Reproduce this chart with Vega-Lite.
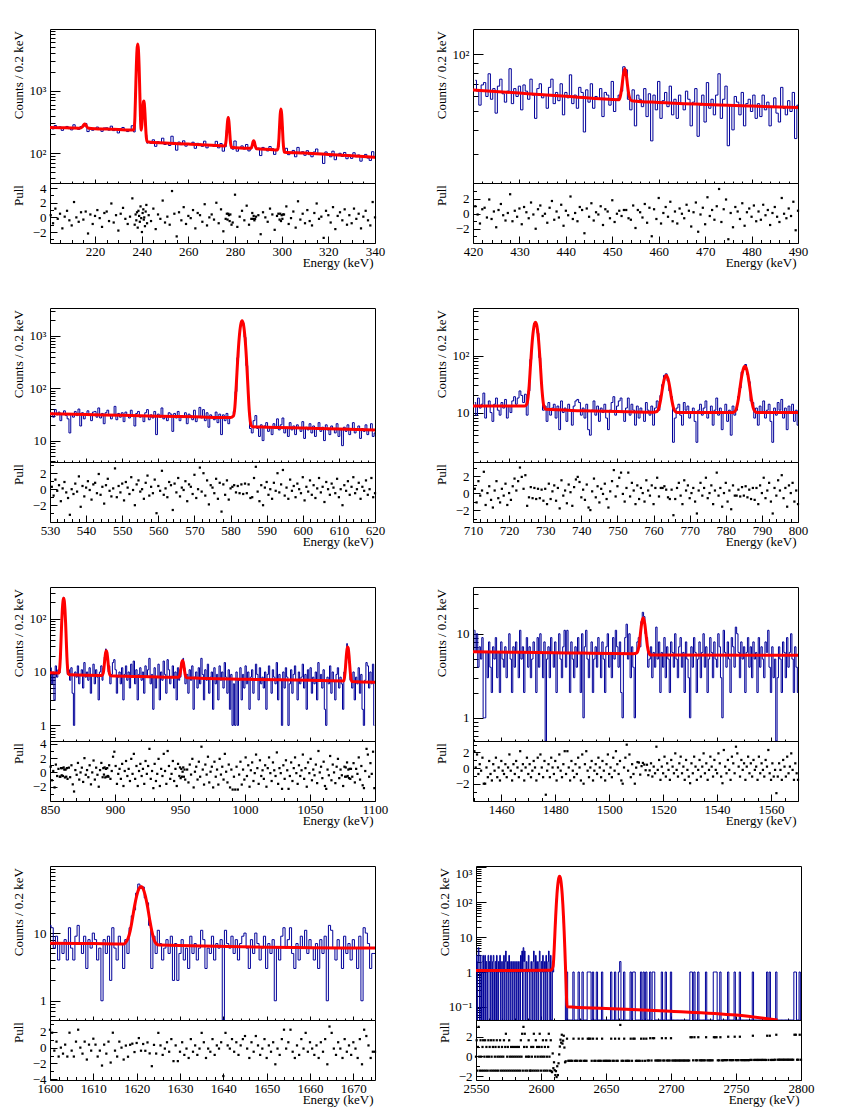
{
  "$schema": "https://vega.github.io/schema/vega-lite/v6.json",
  "background": "white",
  "padding": {"left": 11, "top": 28, "right": 5, "bottom": 5},
  "spacing": 37,
  "vconcat": [
    {"spacing": 48, "hconcat": [
      {"bounds": "flush", "spacing": 0, "vconcat": [
        {"width": 325, "height": 154,
         "layer": [
          {"data": {"name": "h1"}, "mark": {"type": "line", "interpolate": "step", "color": "#000099", "strokeWidth": 1, "clip": true},
           "encoding": {
            "x": {"field": "e", "type": "quantitative", "scale": {"domain": [200.7, 340], "nice": false, "zero": false}, "axis": {"values": [220, 240, 260, 280, 300, 320, 340], "labels": false, "tickSize": -4, "title": null}},
            "y": {"field": "c", "type": "quantitative", "scale": {"type": "log", "domain": [33, 9800], "nice": false, "clamp": true}, "axis": {"values": [100, 1000], "labelExpr": "datum.value==1000?'10³':datum.value==100?'10²':datum.value==10?'10':datum.value==1?'1':'10⁻¹'", "tickSize": -10, "labelPadding": 14, "title": "Counts / 0.2 keV", "titleAnchor": "end", "titleAlign": "right", "titleAngle": -90, "titleBaseline": "bottom", "titleX": -25, "titleY": 1.5}}}},
          {"data": {"name": "f1"}, "mark": {"type": "line", "interpolate": "monotone", "color": "#ff0000", "strokeWidth": 3, "clip": true},
           "encoding": {
            "x": {"field": "e", "type": "quantitative", "scale": {"domain": [200.7, 340], "nice": false, "zero": false}, "axis": {"orient": "bottom", "values": [205, 210, 215, 225, 230, 235, 245, 250, 255, 265, 270, 275, 285, 290, 295, 305, 310, 315, 325, 330, 335], "labels": false, "tickSize": -2, "title": null}},
            "y": {"field": "f", "type": "quantitative", "scale": {"type": "log", "domain": [33, 9800], "nice": false, "clamp": true}, "axis": {"orient": "left", "values": [40, 50, 60, 70, 80, 90, 200, 300, 400, 500, 600, 700, 800, 900, 2000, 3000, 4000, 5000, 6000, 7000, 8000, 9000], "labels": false, "tickSize": -5, "title": null}}}}
         ],
         "resolve": {"axis": {"x": "independent", "y": "independent"}}},
        {"width": 325, "height": 60,
         "layer": [
          {"data": {"name": "h1"}, "mark": {"type": "square", "filled": true, "size": 5, "opacity": 1, "color": "#000"},
           "encoding": {
            "x": {"field": "e", "type": "quantitative", "scale": {"domain": [200.7, 340], "nice": false, "zero": false}, "axis": {"values": [220, 240, 260, 280, 300, 320, 340], "format": "d", "tickSize": -7, "labelPadding": 9, "title": "Energy (keV)", "titleAnchor": "end", "titleAlign": "right", "titleBaseline": "top", "titleX": 323, "titleY": 13.5}},
            "y": {"field": "p", "type": "quantitative", "scale": {"domain": [-3.5, 4.7], "nice": false, "zero": false}, "axis": {"values": [-2, 0, 2, 4], "tickSize": -7, "labelPadding": 11, "title": "Pull", "titleAnchor": "end", "titleAlign": "right", "titleAngle": -90, "titleBaseline": "bottom", "titleX": -25, "titleY": 1.5}}}},
          {"data": {"name": "h1"}, "mark": {"type": "square", "opacity": 0},
           "encoding": {
            "x": {"field": "e", "type": "quantitative", "scale": {"domain": [200.7, 340], "nice": false, "zero": false}, "axis": {"orient": "bottom", "values": [205, 210, 215, 225, 230, 235, 245, 250, 255, 265, 270, 275, 285, 290, 295, 305, 310, 315, 325, 330, 335], "labels": false, "tickSize": -3.5, "title": null}},
            "y": {"field": "p", "type": "quantitative", "scale": {"domain": [-3.5, 4.7], "nice": false, "zero": false}, "axis": {"orient": "left", "values": [-3, -1, 1, 3], "labels": false, "tickSize": -3.5, "title": null}}}}
         ],
         "resolve": {"axis": {"x": "independent", "y": "independent"}}}
      ]},
      {"bounds": "flush", "spacing": 0, "vconcat": [
        {"width": 325, "height": 154,
         "layer": [
          {"data": {"name": "h2"}, "mark": {"type": "line", "interpolate": "step", "color": "#000099", "strokeWidth": 1, "clip": true},
           "encoding": {
            "x": {"field": "e", "type": "quantitative", "scale": {"domain": [420, 490], "nice": false, "zero": false}, "axis": {"values": [420, 430, 440, 450, 460, 470, 480, 490], "labels": false, "tickSize": -4, "title": null}},
            "y": {"field": "c", "type": "quantitative", "scale": {"type": "log", "domain": [21, 136], "nice": false, "clamp": true}, "axis": {"values": [100], "labelExpr": "datum.value==1000?'10³':datum.value==100?'10²':datum.value==10?'10':datum.value==1?'1':'10⁻¹'", "tickSize": -10, "labelPadding": 14, "title": "Counts / 0.2 keV", "titleAnchor": "end", "titleAlign": "right", "titleAngle": -90, "titleBaseline": "bottom", "titleX": -25, "titleY": 1.5}}}},
          {"data": {"name": "f2"}, "mark": {"type": "line", "interpolate": "monotone", "color": "#ff0000", "strokeWidth": 3, "clip": true},
           "encoding": {
            "x": {"field": "e", "type": "quantitative", "scale": {"domain": [420, 490], "nice": false, "zero": false}, "axis": {"orient": "bottom", "values": [422, 424, 426, 428, 432, 434, 436, 438, 442, 444, 446, 448, 452, 454, 456, 458, 462, 464, 466, 468, 472, 474, 476, 478, 482, 484, 486, 488], "labels": false, "tickSize": -2, "title": null}},
            "y": {"field": "f", "type": "quantitative", "scale": {"type": "log", "domain": [21, 136], "nice": false, "clamp": true}, "axis": {"orient": "left", "values": [30, 40, 50, 60, 70, 80, 90], "labels": false, "tickSize": -5, "title": null}}}}
         ],
         "resolve": {"axis": {"x": "independent", "y": "independent"}}},
        {"width": 325, "height": 60,
         "layer": [
          {"data": {"name": "h2"}, "mark": {"type": "square", "filled": true, "size": 5, "opacity": 1, "color": "#000"},
           "encoding": {
            "x": {"field": "e", "type": "quantitative", "scale": {"domain": [420, 490], "nice": false, "zero": false}, "axis": {"values": [420, 430, 440, 450, 460, 470, 480, 490], "format": "d", "tickSize": -7, "labelPadding": 9, "title": "Energy (keV)", "titleAnchor": "end", "titleAlign": "right", "titleBaseline": "top", "titleX": 323, "titleY": 13.5}},
            "y": {"field": "p", "type": "quantitative", "scale": {"domain": [-3.9, 4.1], "nice": false, "zero": false}, "axis": {"values": [-2, 0, 2], "tickSize": -7, "labelPadding": 11, "title": "Pull", "titleAnchor": "end", "titleAlign": "right", "titleAngle": -90, "titleBaseline": "bottom", "titleX": -25, "titleY": 1.5}}}},
          {"data": {"name": "h2"}, "mark": {"type": "square", "opacity": 0},
           "encoding": {
            "x": {"field": "e", "type": "quantitative", "scale": {"domain": [420, 490], "nice": false, "zero": false}, "axis": {"orient": "bottom", "values": [422, 424, 426, 428, 432, 434, 436, 438, 442, 444, 446, 448, 452, 454, 456, 458, 462, 464, 466, 468, 472, 474, 476, 478, 482, 484, 486, 488], "labels": false, "tickSize": -3.5, "title": null}},
            "y": {"field": "p", "type": "quantitative", "scale": {"domain": [-3.9, 4.1], "nice": false, "zero": false}, "axis": {"orient": "left", "values": [-3, -1, 1, 3], "labels": false, "tickSize": -3.5, "title": null}}}}
         ],
         "resolve": {"axis": {"x": "independent", "y": "independent"}}}
      ]}
    ]},
    {"spacing": 48, "hconcat": [
      {"bounds": "flush", "spacing": 0, "vconcat": [
        {"width": 325, "height": 154,
         "layer": [
          {"data": {"name": "h3"}, "mark": {"type": "line", "interpolate": "step", "color": "#000099", "strokeWidth": 1, "clip": true},
           "encoding": {
            "x": {"field": "e", "type": "quantitative", "scale": {"domain": [530, 620], "nice": false, "zero": false}, "axis": {"values": [530, 540, 550, 560, 570, 580, 590, 600, 610, 620], "labels": false, "tickSize": -4, "title": null}},
            "y": {"field": "c", "type": "quantitative", "scale": {"type": "log", "domain": [3.9, 3400], "nice": false, "clamp": true}, "axis": {"values": [10, 100, 1000], "labelExpr": "datum.value==1000?'10³':datum.value==100?'10²':datum.value==10?'10':datum.value==1?'1':'10⁻¹'", "tickSize": -10, "labelPadding": 14, "title": "Counts / 0.2 keV", "titleAnchor": "end", "titleAlign": "right", "titleAngle": -90, "titleBaseline": "bottom", "titleX": -25, "titleY": 1.5}}}},
          {"data": {"name": "f3"}, "mark": {"type": "line", "interpolate": "monotone", "color": "#ff0000", "strokeWidth": 3, "clip": true},
           "encoding": {
            "x": {"field": "e", "type": "quantitative", "scale": {"domain": [530, 620], "nice": false, "zero": false}, "axis": {"orient": "bottom", "values": [532, 534, 536, 538, 542, 544, 546, 548, 552, 554, 556, 558, 562, 564, 566, 568, 572, 574, 576, 578, 582, 584, 586, 588, 592, 594, 596, 598, 602, 604, 606, 608, 612, 614, 616, 618], "labels": false, "tickSize": -2, "title": null}},
            "y": {"field": "f", "type": "quantitative", "scale": {"type": "log", "domain": [3.9, 3400], "nice": false, "clamp": true}, "axis": {"orient": "left", "values": [4, 5, 6, 7, 8, 9, 20, 30, 40, 50, 60, 70, 80, 90, 200, 300, 400, 500, 600, 700, 800, 900, 2000, 3000], "labels": false, "tickSize": -5, "title": null}}}}
         ],
         "resolve": {"axis": {"x": "independent", "y": "independent"}}},
        {"width": 325, "height": 60,
         "layer": [
          {"data": {"name": "h3"}, "mark": {"type": "square", "filled": true, "size": 5, "opacity": 1, "color": "#000"},
           "encoding": {
            "x": {"field": "e", "type": "quantitative", "scale": {"domain": [530, 620], "nice": false, "zero": false}, "axis": {"values": [530, 540, 550, 560, 570, 580, 590, 600, 610, 620], "format": "d", "tickSize": -7, "labelPadding": 9, "title": "Energy (keV)", "titleAnchor": "end", "titleAlign": "right", "titleBaseline": "top", "titleX": 323, "titleY": 13.5}},
            "y": {"field": "p", "type": "quantitative", "scale": {"domain": [-4.1, 3.4], "nice": false, "zero": false}, "axis": {"values": [-2, 0, 2], "tickSize": -7, "labelPadding": 11, "title": "Pull", "titleAnchor": "end", "titleAlign": "right", "titleAngle": -90, "titleBaseline": "bottom", "titleX": -25, "titleY": 1.5}}}},
          {"data": {"name": "h3"}, "mark": {"type": "square", "opacity": 0},
           "encoding": {
            "x": {"field": "e", "type": "quantitative", "scale": {"domain": [530, 620], "nice": false, "zero": false}, "axis": {"orient": "bottom", "values": [532, 534, 536, 538, 542, 544, 546, 548, 552, 554, 556, 558, 562, 564, 566, 568, 572, 574, 576, 578, 582, 584, 586, 588, 592, 594, 596, 598, 602, 604, 606, 608, 612, 614, 616, 618], "labels": false, "tickSize": -3.5, "title": null}},
            "y": {"field": "p", "type": "quantitative", "scale": {"domain": [-4.1, 3.4], "nice": false, "zero": false}, "axis": {"orient": "left", "values": [-3, -1, 1, 3], "labels": false, "tickSize": -3.5, "title": null}}}}
         ],
         "resolve": {"axis": {"x": "independent", "y": "independent"}}}
      ]},
      {"bounds": "flush", "spacing": 0, "vconcat": [
        {"width": 325, "height": 154,
         "layer": [
          {"data": {"name": "h4"}, "mark": {"type": "line", "interpolate": "step", "color": "#000099", "strokeWidth": 1, "clip": true},
           "encoding": {
            "x": {"field": "e", "type": "quantitative", "scale": {"domain": [710, 800], "nice": false, "zero": false}, "axis": {"values": [710, 720, 730, 740, 750, 760, 770, 780, 790, 800], "labels": false, "tickSize": -4, "title": null}},
            "y": {"field": "c", "type": "quantitative", "scale": {"type": "log", "domain": [1.35, 690], "nice": false, "clamp": true}, "axis": {"values": [10, 100], "labelExpr": "datum.value==1000?'10³':datum.value==100?'10²':datum.value==10?'10':datum.value==1?'1':'10⁻¹'", "tickSize": -10, "labelPadding": 14, "title": "Counts / 0.2 keV", "titleAnchor": "end", "titleAlign": "right", "titleAngle": -90, "titleBaseline": "bottom", "titleX": -25, "titleY": 1.5}}}},
          {"data": {"name": "f4"}, "mark": {"type": "line", "interpolate": "monotone", "color": "#ff0000", "strokeWidth": 3, "clip": true},
           "encoding": {
            "x": {"field": "e", "type": "quantitative", "scale": {"domain": [710, 800], "nice": false, "zero": false}, "axis": {"orient": "bottom", "values": [712, 714, 716, 718, 722, 724, 726, 728, 732, 734, 736, 738, 742, 744, 746, 748, 752, 754, 756, 758, 762, 764, 766, 768, 772, 774, 776, 778, 782, 784, 786, 788, 792, 794, 796, 798], "labels": false, "tickSize": -2, "title": null}},
            "y": {"field": "f", "type": "quantitative", "scale": {"type": "log", "domain": [1.35, 690], "nice": false, "clamp": true}, "axis": {"orient": "left", "values": [2, 3, 4, 5, 6, 7, 8, 9, 20, 30, 40, 50, 60, 70, 80, 90, 200, 300, 400, 500, 600], "labels": false, "tickSize": -5, "title": null}}}}
         ],
         "resolve": {"axis": {"x": "independent", "y": "independent"}}},
        {"width": 325, "height": 60,
         "layer": [
          {"data": {"name": "h4"}, "mark": {"type": "square", "filled": true, "size": 5, "opacity": 1, "color": "#000"},
           "encoding": {
            "x": {"field": "e", "type": "quantitative", "scale": {"domain": [710, 800], "nice": false, "zero": false}, "axis": {"values": [710, 720, 730, 740, 750, 760, 770, 780, 790, 800], "format": "d", "tickSize": -7, "labelPadding": 9, "title": "Energy (keV)", "titleAnchor": "end", "titleAlign": "right", "titleBaseline": "top", "titleX": 323, "titleY": 13.5}},
            "y": {"field": "p", "type": "quantitative", "scale": {"domain": [-3.4, 3.65], "nice": false, "zero": false}, "axis": {"values": [-2, 0, 2], "tickSize": -7, "labelPadding": 11, "title": "Pull", "titleAnchor": "end", "titleAlign": "right", "titleAngle": -90, "titleBaseline": "bottom", "titleX": -25, "titleY": 1.5}}}},
          {"data": {"name": "h4"}, "mark": {"type": "square", "opacity": 0},
           "encoding": {
            "x": {"field": "e", "type": "quantitative", "scale": {"domain": [710, 800], "nice": false, "zero": false}, "axis": {"orient": "bottom", "values": [712, 714, 716, 718, 722, 724, 726, 728, 732, 734, 736, 738, 742, 744, 746, 748, 752, 754, 756, 758, 762, 764, 766, 768, 772, 774, 776, 778, 782, 784, 786, 788, 792, 794, 796, 798], "labels": false, "tickSize": -3.5, "title": null}},
            "y": {"field": "p", "type": "quantitative", "scale": {"domain": [-3.4, 3.65], "nice": false, "zero": false}, "axis": {"orient": "left", "values": [-3, -1, 1, 3], "labels": false, "tickSize": -3.5, "title": null}}}}
         ],
         "resolve": {"axis": {"x": "independent", "y": "independent"}}}
      ]}
    ]},
    {"spacing": 45, "hconcat": [
      {"bounds": "flush", "spacing": 0, "vconcat": [
        {"width": 325, "height": 154,
         "layer": [
          {"data": {"name": "h5"}, "mark": {"type": "line", "interpolate": "step", "color": "#000099", "strokeWidth": 1, "clip": true},
           "encoding": {
            "x": {"field": "e", "type": "quantitative", "scale": {"domain": [850, 1100], "nice": false, "zero": false}, "axis": {"values": [850, 900, 950, 1000, 1050, 1100], "labels": false, "tickSize": -4, "title": null}},
            "y": {"field": "c", "type": "quantitative", "scale": {"type": "log", "domain": [0.51, 390], "nice": false, "clamp": true}, "axis": {"values": [1, 10, 100], "labelExpr": "datum.value==1000?'10³':datum.value==100?'10²':datum.value==10?'10':datum.value==1?'1':'10⁻¹'", "tickSize": -10, "labelPadding": 14, "title": "Counts / 0.2 keV", "titleAnchor": "end", "titleAlign": "right", "titleAngle": -90, "titleBaseline": "bottom", "titleX": -25, "titleY": 1.5}}}},
          {"data": {"name": "f5"}, "mark": {"type": "line", "interpolate": "monotone", "color": "#ff0000", "strokeWidth": 3, "clip": true},
           "encoding": {
            "x": {"field": "e", "type": "quantitative", "scale": {"domain": [850, 1100], "nice": false, "zero": false}, "axis": {"orient": "bottom", "values": [860, 870, 880, 890, 910, 920, 930, 940, 960, 970, 980, 990, 1010, 1020, 1030, 1040, 1060, 1070, 1080, 1090], "labels": false, "tickSize": -2, "title": null}},
            "y": {"field": "f", "type": "quantitative", "scale": {"type": "log", "domain": [0.51, 390], "nice": false, "clamp": true}, "axis": {"orient": "left", "values": [0.6, 0.7, 0.8, 0.9, 2, 3, 4, 5, 6, 7, 8, 9, 20, 30, 40, 50, 60, 70, 80, 90, 200, 300], "labels": false, "tickSize": -5, "title": null}}}}
         ],
         "resolve": {"axis": {"x": "independent", "y": "independent"}}},
        {"width": 325, "height": 60,
         "layer": [
          {"data": {"name": "h5"}, "mark": {"type": "square", "filled": true, "size": 5, "opacity": 1, "color": "#000"},
           "encoding": {
            "x": {"field": "e", "type": "quantitative", "scale": {"domain": [850, 1100], "nice": false, "zero": false}, "axis": {"values": [850, 900, 950, 1000, 1050, 1100], "format": "d", "tickSize": -7, "labelPadding": 9, "title": "Energy (keV)", "titleAnchor": "end", "titleAlign": "right", "titleBaseline": "top", "titleX": 323, "titleY": 13.5}},
            "y": {"field": "p", "type": "quantitative", "scale": {"domain": [-4.0, 4.4], "nice": false, "zero": false}, "axis": {"values": [-2, 0, 2, 4], "tickSize": -7, "labelPadding": 11, "title": "Pull", "titleAnchor": "end", "titleAlign": "right", "titleAngle": -90, "titleBaseline": "bottom", "titleX": -25, "titleY": 1.5}}}},
          {"data": {"name": "h5"}, "mark": {"type": "square", "opacity": 0},
           "encoding": {
            "x": {"field": "e", "type": "quantitative", "scale": {"domain": [850, 1100], "nice": false, "zero": false}, "axis": {"orient": "bottom", "values": [860, 870, 880, 890, 910, 920, 930, 940, 960, 970, 980, 990, 1010, 1020, 1030, 1040, 1060, 1070, 1080, 1090], "labels": false, "tickSize": -3.5, "title": null}},
            "y": {"field": "p", "type": "quantitative", "scale": {"domain": [-4.0, 4.4], "nice": false, "zero": false}, "axis": {"orient": "left", "values": [-3, -1, 1, 3], "labels": false, "tickSize": -3.5, "title": null}}}}
         ],
         "resolve": {"axis": {"x": "independent", "y": "independent"}}}
      ]},
      {"bounds": "flush", "spacing": 0, "vconcat": [
        {"width": 325, "height": 154,
         "layer": [
          {"data": {"name": "h6"}, "mark": {"type": "line", "interpolate": "step", "color": "#000099", "strokeWidth": 1, "clip": true},
           "encoding": {
            "x": {"field": "e", "type": "quantitative", "scale": {"domain": [1449.5, 1570], "nice": false, "zero": false}, "axis": {"values": [1460, 1480, 1500, 1520, 1540, 1560], "labels": false, "tickSize": -4, "title": null}},
            "y": {"field": "c", "type": "quantitative", "scale": {"type": "log", "domain": [0.53, 36], "nice": false, "clamp": true}, "axis": {"values": [1, 10], "labelExpr": "datum.value==1000?'10³':datum.value==100?'10²':datum.value==10?'10':datum.value==1?'1':'10⁻¹'", "tickSize": -10, "labelPadding": 14, "title": "Counts / 0.2 keV", "titleAnchor": "end", "titleAlign": "right", "titleAngle": -90, "titleBaseline": "bottom", "titleX": -25, "titleY": 1.5}}}},
          {"data": {"name": "f6"}, "mark": {"type": "line", "interpolate": "monotone", "color": "#ff0000", "strokeWidth": 3, "clip": true},
           "encoding": {
            "x": {"field": "e", "type": "quantitative", "scale": {"domain": [1449.5, 1570], "nice": false, "zero": false}, "axis": {"orient": "bottom", "values": [1450, 1455, 1465, 1470, 1475, 1485, 1490, 1495, 1505, 1510, 1515, 1525, 1530, 1535, 1545, 1550, 1555, 1565, 1570], "labels": false, "tickSize": -2, "title": null}},
            "y": {"field": "f", "type": "quantitative", "scale": {"type": "log", "domain": [0.53, 36], "nice": false, "clamp": true}, "axis": {"orient": "left", "values": [0.6, 0.7, 0.8, 0.9, 2, 3, 4, 5, 6, 7, 8, 9, 20, 30], "labels": false, "tickSize": -5, "title": null}}}}
         ],
         "resolve": {"axis": {"x": "independent", "y": "independent"}}},
        {"width": 325, "height": 60,
         "layer": [
          {"data": {"name": "h6"}, "mark": {"type": "square", "filled": true, "size": 5, "opacity": 1, "color": "#000"},
           "encoding": {
            "x": {"field": "e", "type": "quantitative", "scale": {"domain": [1449.5, 1570], "nice": false, "zero": false}, "axis": {"values": [1460, 1480, 1500, 1520, 1540, 1560], "format": "d", "tickSize": -7, "labelPadding": 9, "title": "Energy (keV)", "titleAnchor": "end", "titleAlign": "right", "titleBaseline": "top", "titleX": 323, "titleY": 13.5}},
            "y": {"field": "p", "type": "quantitative", "scale": {"domain": [-4.2, 3.46], "nice": false, "zero": false}, "axis": {"values": [-2, 0, 2], "tickSize": -7, "labelPadding": 11, "title": "Pull", "titleAnchor": "end", "titleAlign": "right", "titleAngle": -90, "titleBaseline": "bottom", "titleX": -25, "titleY": 1.5}}}},
          {"data": {"name": "h6"}, "mark": {"type": "square", "opacity": 0},
           "encoding": {
            "x": {"field": "e", "type": "quantitative", "scale": {"domain": [1449.5, 1570], "nice": false, "zero": false}, "axis": {"orient": "bottom", "values": [1450, 1455, 1465, 1470, 1475, 1485, 1490, 1495, 1505, 1510, 1515, 1525, 1530, 1535, 1545, 1550, 1555, 1565, 1570], "labels": false, "tickSize": -3.5, "title": null}},
            "y": {"field": "p", "type": "quantitative", "scale": {"domain": [-4.2, 3.46], "nice": false, "zero": false}, "axis": {"orient": "left", "values": [-3, -1, 1, 3], "labels": false, "tickSize": -3.5, "title": null}}}}
         ],
         "resolve": {"axis": {"x": "independent", "y": "independent"}}}
      ]}
    ]},
    {"spacing": 58, "hconcat": [
      {"bounds": "flush", "spacing": 0, "vconcat": [
        {"width": 325, "height": 154,
         "layer": [
          {"data": {"name": "h7"}, "mark": {"type": "line", "interpolate": "step", "color": "#000099", "strokeWidth": 1, "clip": true},
           "encoding": {
            "x": {"field": "e", "type": "quantitative", "scale": {"domain": [1600, 1675], "nice": false, "zero": false}, "axis": {"values": [1600, 1610, 1620, 1630, 1640, 1650, 1660, 1670], "labels": false, "tickSize": -4, "title": null}},
            "y": {"field": "c", "type": "quantitative", "scale": {"type": "log", "domain": [0.52, 98], "nice": false, "clamp": true}, "axis": {"values": [1, 10], "labelExpr": "datum.value==1000?'10³':datum.value==100?'10²':datum.value==10?'10':datum.value==1?'1':'10⁻¹'", "tickSize": -10, "labelPadding": 14, "title": "Counts / 0.2 keV", "titleAnchor": "end", "titleAlign": "right", "titleAngle": -90, "titleBaseline": "bottom", "titleX": -25, "titleY": 1.5}}}},
          {"data": {"name": "f7"}, "mark": {"type": "line", "interpolate": "monotone", "color": "#ff0000", "strokeWidth": 3, "clip": true},
           "encoding": {
            "x": {"field": "e", "type": "quantitative", "scale": {"domain": [1600, 1675], "nice": false, "zero": false}, "axis": {"orient": "bottom", "values": [1602, 1604, 1606, 1608, 1612, 1614, 1616, 1618, 1622, 1624, 1626, 1628, 1632, 1634, 1636, 1638, 1642, 1644, 1646, 1648, 1652, 1654, 1656, 1658, 1662, 1664, 1666, 1668, 1672, 1674], "labels": false, "tickSize": -2, "title": null}},
            "y": {"field": "f", "type": "quantitative", "scale": {"type": "log", "domain": [0.52, 98], "nice": false, "clamp": true}, "axis": {"orient": "left", "values": [0.6, 0.7, 0.8, 0.9, 2, 3, 4, 5, 6, 7, 8, 9, 20, 30, 40, 50, 60, 70, 80, 90], "labels": false, "tickSize": -5, "title": null}}}}
         ],
         "resolve": {"axis": {"x": "independent", "y": "independent"}}},
        {"width": 325, "height": 60,
         "layer": [
          {"data": {"name": "h7"}, "mark": {"type": "square", "filled": true, "size": 5, "opacity": 1, "color": "#000"},
           "encoding": {
            "x": {"field": "e", "type": "quantitative", "scale": {"domain": [1600, 1675], "nice": false, "zero": false}, "axis": {"values": [1600, 1610, 1620, 1630, 1640, 1650, 1660, 1670], "format": "d", "tickSize": -7, "labelPadding": 9, "title": "Energy (keV)", "titleAnchor": "end", "titleAlign": "right", "titleBaseline": "top", "titleX": 323, "titleY": 13.5}},
            "y": {"field": "p", "type": "quantitative", "scale": {"domain": [-4.1, 3.5], "nice": false, "zero": false}, "axis": {"values": [-4, -2, 0, 2], "tickSize": -7, "labelPadding": 11, "title": "Pull", "titleAnchor": "end", "titleAlign": "right", "titleAngle": -90, "titleBaseline": "bottom", "titleX": -25, "titleY": 1.5}}}},
          {"data": {"name": "h7"}, "mark": {"type": "square", "opacity": 0},
           "encoding": {
            "x": {"field": "e", "type": "quantitative", "scale": {"domain": [1600, 1675], "nice": false, "zero": false}, "axis": {"orient": "bottom", "values": [1602, 1604, 1606, 1608, 1612, 1614, 1616, 1618, 1622, 1624, 1626, 1628, 1632, 1634, 1636, 1638, 1642, 1644, 1646, 1648, 1652, 1654, 1656, 1658, 1662, 1664, 1666, 1668, 1672, 1674], "labels": false, "tickSize": -3.5, "title": null}},
            "y": {"field": "p", "type": "quantitative", "scale": {"domain": [-4.1, 3.5], "nice": false, "zero": false}, "axis": {"orient": "left", "values": [-3, -1, 1, 3], "labels": false, "tickSize": -3.5, "title": null}}}}
         ],
         "resolve": {"axis": {"x": "independent", "y": "independent"}}}
      ]},
      {"bounds": "flush", "spacing": 0, "vconcat": [
        {"width": 325, "height": 154,
         "layer": [
          {"data": {"name": "h8"}, "mark": {"type": "line", "interpolate": "step", "color": "#000099", "strokeWidth": 1, "clip": true},
           "encoding": {
            "x": {"field": "e", "type": "quantitative", "scale": {"domain": [2550, 2800], "nice": false, "zero": false}, "axis": {"values": [2550, 2600, 2650, 2700, 2750, 2800], "labels": false, "tickSize": -4, "title": null}},
            "y": {"field": "c", "type": "quantitative", "scale": {"type": "log", "domain": [0.042, 1100], "nice": false, "clamp": true}, "axis": {"values": [0.1, 1, 10, 100, 1000], "labelExpr": "datum.value==1000?'10³':datum.value==100?'10²':datum.value==10?'10':datum.value==1?'1':'10⁻¹'", "labelBaseline": {"condition": {"test": "datum.value == 1000", "value": "top"}, "value": "middle"}, "tickSize": -10, "labelPadding": 14, "title": "Counts / 0.2 keV", "titleAnchor": "end", "titleAlign": "right", "titleAngle": -90, "titleBaseline": "bottom", "titleX": -25, "titleY": 1.5}}}},
          {"data": {"name": "f8"}, "mark": {"type": "line", "interpolate": "monotone", "color": "#ff0000", "strokeWidth": 3, "clip": true},
           "encoding": {
            "x": {"field": "e", "type": "quantitative", "scale": {"domain": [2550, 2800], "nice": false, "zero": false}, "axis": {"orient": "bottom", "values": [2560, 2570, 2580, 2590, 2610, 2620, 2630, 2640, 2660, 2670, 2680, 2690, 2710, 2720, 2730, 2740, 2760, 2770, 2780, 2790], "labels": false, "tickSize": -2, "title": null}},
            "y": {"field": "f", "type": "quantitative", "scale": {"type": "log", "domain": [0.042, 1100], "nice": false, "clamp": true}, "axis": {"orient": "left", "values": [0.05, 0.06, 0.07, 0.08, 0.09, 0.2, 0.3, 0.4, 0.5, 0.6, 0.7, 0.8, 0.9, 2, 3, 4, 5, 6, 7, 8, 9, 20, 30, 40, 50, 60, 70, 80, 90, 200, 300, 400, 500, 600, 700, 800, 900], "labels": false, "tickSize": -5, "title": null}}}}
         ],
         "resolve": {"axis": {"x": "independent", "y": "independent"}}},
        {"width": 325, "height": 60,
         "layer": [
          {"data": {"name": "h8"}, "mark": {"type": "square", "filled": true, "size": 5, "opacity": 1, "color": "#000"},
           "encoding": {
            "x": {"field": "e", "type": "quantitative", "scale": {"domain": [2550, 2800], "nice": false, "zero": false}, "axis": {"values": [2550, 2600, 2650, 2700, 2750, 2800], "format": "d", "tickSize": -7, "labelPadding": 9, "title": "Energy (keV)", "titleAnchor": "end", "titleAlign": "right", "titleBaseline": "top", "titleX": 323, "titleY": 13.5}},
            "y": {"field": "p", "type": "quantitative", "scale": {"domain": [-2.4, 3.7], "nice": false, "zero": false}, "axis": {"values": [-2, 0, 2], "tickSize": -7, "labelPadding": 11, "title": "Pull", "titleAnchor": "end", "titleAlign": "right", "titleAngle": -90, "titleBaseline": "bottom", "titleX": -25, "titleY": 1.5}}}},
          {"data": {"name": "h8"}, "mark": {"type": "square", "opacity": 0},
           "encoding": {
            "x": {"field": "e", "type": "quantitative", "scale": {"domain": [2550, 2800], "nice": false, "zero": false}, "axis": {"orient": "bottom", "values": [2560, 2570, 2580, 2590, 2610, 2620, 2630, 2640, 2660, 2670, 2680, 2690, 2710, 2720, 2730, 2740, 2760, 2770, 2780, 2790], "labels": false, "tickSize": -3.5, "title": null}},
            "y": {"field": "p", "type": "quantitative", "scale": {"domain": [-2.4, 3.7], "nice": false, "zero": false}, "axis": {"orient": "left", "values": [-1, 1, 3], "labels": false, "tickSize": -3.5, "title": null}}}}
         ],
         "resolve": {"axis": {"x": "independent", "y": "independent"}}}
      ]}
    ]}
  ],
  "datasets": {
    "h1": [
      {"e":201,"c":263,"p":0.3},{"e":202,"c":244,"p":-0.8},{"e":203,"c":276,"p":1.2},{"e":204,"c":253,"p":-0.2},{"e":205,"c":263,"p":0.5},{"e":206,"c":231,"p":-1.5},{"e":207,"c":256,"p":0.1},{"e":208,"c":267,"p":0.9},{"e":209,"c":246,"p":-0.4},{"e":210,"c":235,"p":-1.1},
      {"e":211,"c":284,"p":2.1},{"e":212,"c":250,"p":0},{"e":213,"c":240,"p":-0.6},{"e":214,"c":265,"p":0.7},{"e":215,"c":270,"p":-0.3},{"e":216,"c":298,"p":0.8},{"e":217,"c":221,"p":-2.2},{"e":218,"c":254,"p":0.4},{"e":219,"c":232,"p":-0.9},{"e":220,"c":248,"p":0.2},
      {"e":221,"c":261,"p":1.0},{"e":222,"c":242,"p":-0.1},{"e":223,"c":223,"p":-1.3},{"e":224,"c":252,"p":0.6},{"e":225,"c":254,"p":0.8},{"e":226,"c":233,"p":-0.5},{"e":227,"c":270,"p":1.9},{"e":228,"c":229,"p":-0.7},{"e":229,"c":244,"p":0.3},{"e":230,"c":210,"p":-1.8},
      {"e":231,"c":245,"p":0.5},{"e":232,"c":257,"p":1.3},{"e":233,"c":233,"p":-0.2},{"e":234,"c":221,"p":-0.9},{"e":235,"c":237,"p":0.1},{"e":236,"c":274,"p":2.6},{"e":237,"c":218,"p":-1.0},
      {"e":237.4,"c":940,"p":0.4},{"e":237.7,"c":2380,"p":-0.4},{"e":238,"c":4580,"p":0.7},{"e":238.3,"c":5480,"p":-1.4},{"e":238.6,"c":4600,"p":0.9},{"e":238.9,"c":2440,"p":0.2},{"e":239.2,"c":900,"p":-0.6},{"e":239.5,"c":360,"p":1.5},{"e":239.8,"c":230,"p":-0.1},{"e":240.1,"c":255,"p":-2.0},
      {"e":240.4,"c":460,"p":0.6},{"e":240.7,"c":665,"p":1.1},{"e":240.9,"c":680,"p":-0.3},{"e":241.1,"c":633,"p":0},{"e":241.4,"c":417,"p":-1.2},{"e":241.7,"c":270,"p":0.8},{"e":242,"c":196,"p":1.7},{"e":242.3,"c":144,"p":-0.8},
      {"e":243,"c":153,"p":0.3},{"e":244,"c":143,"p":-0.5},{"e":245,"c":163,"p":1.2},{"e":246,"c":128,"p":-1.6},{"e":247,"c":152,"p":0.4},{"e":248,"c":144,"p":-0.2},{"e":249,"c":173,"p":2.3},{"e":250,"c":137,"p":-0.7},{"e":251,"c":145,"p":0.1},{"e":252,"c":132,"p":-1.0},
      {"e":253,"c":186,"p":3.6},{"e":254,"c":148,"p":0.5},{"e":255,"c":111,"p":-2.6},{"e":256,"c":150,"p":0.7},{"e":257,"c":136,"p":-0.4},{"e":258,"c":157,"p":1.4},{"e":259,"c":129,"p":-0.9},{"e":260,"c":141,"p":0.2},{"e":261,"c":137,"p":-0.1},{"e":262,"c":149,"p":1.0},
      {"e":263,"c":119,"p":-1.5},{"e":264,"c":143,"p":0.6},{"e":265,"c":139,"p":0.3},{"e":266,"c":128,"p":-0.6},{"e":267,"c":155,"p":1.8},{"e":268,"c":121,"p":-1.1},{"e":269,"c":133,"p":0},{"e":270,"c":137,"p":0.4},{"e":271,"c":128,"p":-0.3},{"e":272,"c":154,"p":2.0},
      {"e":273,"c":121,"p":-0.8},{"e":274,"c":142,"p":1.1},{"e":275,"c":107,"p":-1.9},{"e":276,"c":126,"p":-0.2},{"e":276.5,"c":232,"p":0.5},{"e":276.8,"c":318,"p":-0.3},{"e":277.1,"c":380,"p":0.5},{"e":277.4,"c":326,"p":0.3},{"e":277.7,"c":218,"p":-0.5},{"e":278,"c":160,"p":0.4},
      {"e":278.5,"c":118,"p":-1.0},{"e":279,"c":115,"p":-0.7},{"e":280,"c":156,"p":3.1},{"e":281,"c":107,"p":-1.3},{"e":282,"c":122,"p":0.1},{"e":283,"c":130,"p":0.9},{"e":284,"c":116,"p":-0.4},{"e":285,"c":137,"p":1.6},{"e":286,"c":108,"p":-1.0},{"e":287,"c":117,"p":-0.2},
      {"e":287.4,"c":140,"p":0.6},{"e":287.7,"c":147,"p":-0.2},{"e":288,"c":160,"p":0.2},{"e":288.3,"c":146,"p":-0.4},{"e":288.6,"c":131,"p":-0.2},{"e":289,"c":118,"p":0.1},{"e":290,"c":120,"p":0.3},{"e":291,"c":91,"p":-2.3},{"e":292,"c":123,"p":0.7},{"e":293,"c":115,"p":0},
      {"e":294,"c":108,"p":-0.6},{"e":295,"c":127,"p":1.2},{"e":296,"c":118,"p":0.4},{"e":297,"c":95,"p":-1.7},{"e":298,"c":115,"p":0.2},{"e":298.6,"c":125,"p":0.5},{"e":299.1,"c":268,"p":-0.3},{"e":299.4,"c":440,"p":0.5},{"e":299.7,"c":496,"p":-0.5},{"e":300,"c":430,"p":0.3},
      {"e":300.3,"c":262,"p":-0.2},{"e":300.6,"c":162,"p":0.4},{"e":301,"c":108,"p":0.4},{"e":302,"c":119,"p":1.5},{"e":303,"c":94,"p":-0.9},{"e":304,"c":101,"p":-0.1},{"e":305,"c":110,"p":0.8},{"e":306,"c":87,"p":-1.4},{"e":307,"c":123,"p":2.2},{"e":308,"c":98,"p":-0.3},
      {"e":309,"c":105,"p":0.5},{"e":310,"c":92,"p":-0.8},{"e":311,"c":109,"p":1.0},{"e":312,"c":94,"p":-0.5},{"e":313,"c":87,"p":-1.1},{"e":314,"c":104,"p":0.6},{"e":315,"c":116,"p":1.9},{"e":316,"c":95,"p":-0.2},{"e":317,"c":97,"p":0.1},{"e":318,"c":68,"p":-2.8},
      {"e":319,"c":104,"p":0.9},{"e":320,"c":98,"p":0.3},{"e":321,"c":87,"p":-0.7},{"e":322,"c":107,"p":1.4},{"e":323,"c":78,"p":-1.6},{"e":324,"c":95,"p":0.2},{"e":325,"c":99,"p":0.7},{"e":326,"c":88,"p":-0.4},{"e":327,"c":102,"p":1.1},{"e":328,"c":81,"p":-1.0},
      {"e":329,"c":93,"p":0.3},{"e":330,"c":82,"p":-0.8},{"e":331,"c":101,"p":1.2},{"e":332,"c":87,"p":-0.2},{"e":333,"c":93,"p":0.5},{"e":334,"c":74,"p":-1.5},{"e":335,"c":88,"p":0.1},{"e":336,"c":95,"p":0.9},{"e":337,"c":83,"p":-0.4},{"e":338,"c":76,"p":-1.1},
      {"e":339,"c":105,"p":2.1},{"e":340,"c":85,"p":0}
    ],
    "f1": [
      {"e":200.7,"f":258},{"e":205,"f":255},{"e":210,"f":252},{"e":213,"f":250},{"e":214,"f":253},{"e":214.5,"f":262},{"e":215,"f":277},{"e":215.5,"f":292},{"e":216,"f":284},{"e":216.5,"f":264},{"e":217,"f":252},{"e":220,"f":245},{"e":225,"f":242},{"e":230,"f":238},{"e":236.5,"f":234},
      {"e":236.8,"f":254},{"e":237.1,"f":383},{"e":237.4,"f":958},{"e":237.7,"f":2433},{"e":238,"f":4533},{"e":238.3,"f":5603},{"e":238.6,"f":4525},{"e":238.9,"f":2415},{"e":239.2,"f":930},{"e":239.5,"f":344},{"e":239.8,"f":232},{"e":240.1,"f":287},{"e":240.4,"f":453},{"e":240.7,"f":638},{"e":240.9,"f":685},
      {"e":241.1,"f":633},{"e":241.4,"f":439},{"e":241.7,"f":260},{"e":242,"f":176},{"e":242.3,"f":154},{"e":243,"f":150},{"e":250,"f":145},{"e":260,"f":139},{"e":270,"f":133},{"e":275.6,"f":129.5},{"e":275.9,"f":136},{"e":276.2,"f":162},{"e":276.5,"f":229},{"e":276.8,"f":323},{"e":277.1,"f":371},
      {"e":277.4,"f":320},{"e":277.7,"f":224},{"e":278,"f":156},{"e":278.3,"f":130},{"e":278.6,"f":123},{"e":280,"f":122},{"e":286.8,"f":119},{"e":287.1,"f":123},{"e":287.4,"f":134},{"e":287.7,"f":150},{"e":288,"f":158},{"e":288.3,"f":150},{"e":288.6,"f":134},{"e":288.9,"f":123},{"e":289.2,"f":117},
      {"e":295,"f":114},{"e":298.2,"f":112},{"e":298.5,"f":123},{"e":298.8,"f":165},{"e":299.1,"f":274},{"e":299.4,"f":429},{"e":299.7,"f":508},{"e":300,"f":423},{"e":300.3,"f":267},{"e":300.6,"f":157},{"e":300.9,"f":115},{"e":301.2,"f":103},{"e":310,"f":100},{"e":320,"f":95},{"e":330,"f":90},{"e":340,"f":85}
    ],
    "h2": [
      {"e":420.5,"c":73,"p":1.0},{"e":421,"c":64,"p":-0.1},{"e":421.5,"c":54,"p":-1.3},{"e":422,"c":69,"p":0.6},{"e":422.5,"c":71,"p":0.8},{"e":423,"c":60,"p":-0.5},{"e":423.5,"c":79,"p":1.9},{"e":424,"c":58,"p":-0.7},{"e":424.5,"c":66,"p":0.3},{"e":425,"c":49,"p":-1.8},
      {"e":425.5,"c":68,"p":0.5},{"e":426,"c":74,"p":1.3},{"e":426.5,"c":62,"p":-0.2},{"e":427,"c":56,"p":-0.9},{"e":427.5,"c":64,"p":0.1},{"e":428,"c":84,"p":2.6},{"e":428.5,"c":55,"p":-1.0},{"e":429,"c":66,"p":0.4},{"e":429.5,"c":60,"p":-0.4},{"e":430,"c":68,"p":0.7},
      {"e":430.5,"c":51,"p":-1.4},{"e":431,"c":69,"p":0.9},{"e":431.5,"c":64,"p":0.2},{"e":432,"c":58,"p":-0.6},{"e":432.5,"c":74,"p":1.5},{"e":433,"c":61,"p":-0.1},{"e":433.5,"c":46,"p":-2.0},{"e":434,"c":66,"p":0.6},{"e":434.5,"c":70,"p":1.1},{"e":435,"c":59,"p":-0.3},
      {"e":435.5,"c":61,"p":0},{"e":436,"c":52,"p":-1.2},{"e":436.5,"c":67,"p":0.8},{"e":437,"c":74,"p":1.7},{"e":437.5,"c":55,"p":-0.8},{"e":438,"c":63,"p":0.3},{"e":438.5,"c":57,"p":-0.5},{"e":439,"c":70,"p":1.2},{"e":439.5,"c":48,"p":-1.6},{"e":440,"c":63,"p":0.4},
      {"e":440.5,"c":59,"p":-0.2},{"e":441,"c":78,"p":2.3},{"e":441.5,"c":55,"p":-0.7},{"e":442,"c":61,"p":0.1},{"e":442.5,"c":52,"p":-1.0},{"e":443,"c":67,"p":0.9},{"e":443.5,"c":63,"p":0.5},{"e":444,"c":39,"p":-2.6},{"e":444.5,"c":65,"p":0.7},{"e":445,"c":56,"p":-0.4},
      {"e":445.5,"c":70,"p":1.4},{"e":446,"c":52,"p":-0.9},{"e":446.5,"c":60,"p":0.2},{"e":447,"c":58,"p":-0.1},{"e":447.5,"c":66,"p":1.0},{"e":448,"c":47,"p":-1.5},{"e":448.5,"c":63,"p":0.6},{"e":449,"c":61,"p":0.3},{"e":449.5,"c":54,"p":-0.6},{"e":450,"c":72,"p":1.8},
      {"e":450.5,"c":50,"p":-1.1},{"e":451,"c":58,"p":0},{"e":451.5,"c":61,"p":0.4},{"e":452,"c":64,"p":-0.3},{"e":452.5,"c":86,"p":0.5},{"e":453,"c":83,"p":0.5},{"e":453.5,"c":58,"p":-0.6},{"e":454,"c":51,"p":-0.8},{"e":454.5,"c":65,"p":1.1},{"e":455,"c":42,"p":-1.9},
      {"e":455.5,"c":61,"p":0.5},{"e":456,"c":58,"p":0.2},{"e":456.5,"c":53,"p":-0.5},{"e":457,"c":66,"p":1.3},{"e":457.5,"c":47,"p":-1.2},{"e":458,"c":62,"p":0.8},{"e":458.5,"c":35,"p":-3.0},{"e":459,"c":61,"p":0.6},{"e":459.5,"c":51,"p":-0.7},{"e":460,"c":72,"p":2.1},
      {"e":460.5,"c":46,"p":-1.3},{"e":461,"c":57,"p":0.1},{"e":461.5,"c":63,"p":0.9},{"e":462,"c":53,"p":-0.4},{"e":462.5,"c":68,"p":1.6},{"e":463,"c":48,"p":-1.0},{"e":463.5,"c":58,"p":0.3},{"e":464,"c":46,"p":-1.3},{"e":464.5,"c":61,"p":0.7},{"e":465,"c":55,"p":0},
      {"e":465.5,"c":51,"p":-0.6},{"e":466,"c":64,"p":1.2},{"e":466.5,"c":58,"p":0.4},{"e":467,"c":42,"p":-1.7},{"e":467.5,"c":56,"p":0.2},{"e":468,"c":66,"p":1.5},{"e":468.5,"c":37,"p":-2.4},{"e":469,"c":54,"p":-0.1},{"e":469.5,"c":61,"p":0.8},{"e":470,"c":44,"p":-1.4},
      {"e":470.5,"c":71,"p":2.2},{"e":471,"c":52,"p":-0.3},{"e":471.5,"c":58,"p":0.5},{"e":472,"c":48,"p":-0.8},{"e":472.5,"c":61,"p":1.0},{"e":473,"c":79,"p":3.3},{"e":473.5,"c":46,"p":-1.1},{"e":474,"c":58,"p":0.6},{"e":474.5,"c":68,"p":1.9},{"e":475,"c":33,"p":-3.4},
      {"e":475.5,"c":54,"p":0.1},{"e":476,"c":40,"p":-1.8},{"e":476.5,"c":60,"p":0.9},{"e":477,"c":56,"p":0.3},{"e":477.5,"c":48,"p":-0.7},{"e":478,"c":63,"p":1.4},{"e":478.5,"c":42,"p":-1.6},{"e":479,"c":55,"p":0.2},{"e":479.5,"c":58,"p":0.7},{"e":480,"c":50,"p":-0.4},
      {"e":480.5,"c":61,"p":1.1},{"e":481,"c":46,"p":-1.0},{"e":481.5,"c":55,"p":0.3},{"e":482,"c":47,"p":-0.8},{"e":482.5,"c":61,"p":1.2},{"e":483,"c":51,"p":-0.2},{"e":483.5,"c":56,"p":0.5},{"e":484,"c":42,"p":-1.5},{"e":484.5,"c":53,"p":0.1},{"e":485,"c":59,"p":0.9},
      {"e":485.5,"c":49,"p":-0.4},{"e":486,"c":44,"p":-1.1},{"e":486.5,"c":67,"p":2.1},{"e":487,"c":52,"p":0},{"e":487.5,"c":48,"p":-0.6},{"e":488,"c":57,"p":0.7},{"e":488.5,"c":50,"p":-0.3},{"e":489,"c":63,"p":1.6},{"e":489.5,"c":36,"p":-2.2},{"e":490,"c":54,"p":0.4}
    ],
    "f2": [
      {"e":420,"f":64.9},{"e":430,"f":62.5},{"e":440,"f":60.2},{"e":451.5,"f":57.7},{"e":451.8,"f":61.2},{"e":452.1,"f":68.5},{"e":452.4,"f":78.8},{"e":452.7,"f":84},{"e":453,"f":78.6},{"e":453.3,"f":68.1},{"e":453.6,"f":60.7},{"e":454,"f":57.4},{"e":454.5,"f":56.8},{"e":460,"f":55.8},{"e":470,"f":54.5},{"e":480,"f":53.4},{"e":490,"f":52.4}
    ],
    "h3": [
      {"e":530.5,"c":34,"p":0.3},{"e":531,"c":28,"p":-0.8},{"e":531.5,"c":39,"p":1.2},{"e":532,"c":31,"p":-0.2},{"e":532.5,"c":35,"p":0.5},{"e":533,"c":24,"p":-1.5},{"e":533.5,"c":33,"p":0.1},{"e":534,"c":37,"p":0.9},{"e":534.5,"c":30,"p":-0.4},{"e":535,"c":26,"p":-1.1},
      {"e":535.5,"c":14,"p":-3.2},{"e":536,"c":32,"p":0},{"e":536.5,"c":28,"p":-0.6},{"e":537,"c":36,"p":0.7},{"e":537.5,"c":30,"p":-0.3},{"e":538,"c":40,"p":1.6},{"e":538.5,"c":19,"p":-2.2},{"e":539,"c":34,"p":0.4},{"e":539.5,"c":26,"p":-0.9},{"e":540,"c":33,"p":0.2},
      {"e":540.5,"c":37,"p":1.0},{"e":541,"c":31,"p":-0.1},{"e":541.5,"c":24,"p":-1.3},{"e":542,"c":35,"p":0.6},{"e":542.5,"c":36,"p":0.8},{"e":543,"c":28,"p":-0.5},{"e":543.5,"c":42,"p":1.9},{"e":544,"c":27,"p":-0.7},{"e":544.5,"c":33,"p":0.3},{"e":545,"c":21,"p":-1.8},
      {"e":545.5,"c":34,"p":0.5},{"e":546,"c":38,"p":1.3},{"e":546.5,"c":30,"p":-0.2},{"e":547,"c":26,"p":-0.9},{"e":547.5,"c":31,"p":0.1},{"e":548,"c":45,"p":2.6},{"e":548.5,"c":25,"p":-1.0},{"e":549,"c":33,"p":0.4},{"e":549.5,"c":28,"p":-0.4},{"e":550,"c":34,"p":0.7},
      {"e":550.5,"c":23,"p":-1.4},{"e":551,"c":35,"p":0.9},{"e":551.5,"c":31,"p":0.2},{"e":552,"c":27,"p":-0.6},{"e":552.5,"c":38,"p":1.5},{"e":553,"c":30,"p":-0.1},{"e":553.5,"c":19,"p":-2.0},{"e":554,"c":33,"p":0.6},{"e":554.5,"c":36,"p":1.1},{"e":555,"c":28,"p":-0.3},
      {"e":555.5,"c":30,"p":0},{"e":556,"c":23,"p":-1.2},{"e":556.5,"c":34,"p":0.8},{"e":557,"c":39,"p":1.7},{"e":557.5,"c":25,"p":-0.8},{"e":558,"c":31,"p":0.3},{"e":558.5,"c":27,"p":-0.5},{"e":559,"c":36,"p":1.2},{"e":559.5,"c":13,"p":-3.0},{"e":560,"c":32,"p":0.4},
      {"e":560.5,"c":28,"p":-0.2},{"e":561,"c":42,"p":2.3},{"e":561.5,"c":26,"p":-0.7},{"e":562,"c":30,"p":0.1},{"e":562.5,"c":24,"p":-1.0},{"e":563,"c":34,"p":0.9},{"e":563.5,"c":32,"p":0.5},{"e":564,"c":15,"p":-2.6},{"e":564.5,"c":33,"p":0.7},{"e":565,"c":27,"p":-0.4},
      {"e":565.5,"c":36,"p":1.4},{"e":566,"c":24,"p":-0.9},{"e":566.5,"c":30,"p":0.2},{"e":567,"c":28,"p":-0.1},{"e":567.5,"c":34,"p":1.0},{"e":568,"c":21,"p":-1.5},{"e":568.5,"c":32,"p":0.6},{"e":569,"c":30,"p":0.3},{"e":569.5,"c":25,"p":-0.6},{"e":570,"c":38,"p":1.8},
      {"e":570.5,"c":23,"p":-1.1},{"e":571,"c":28,"p":0},{"e":571.5,"c":43,"p":2.7},{"e":572,"c":27,"p":-0.3},{"e":572.5,"c":39,"p":2.0},{"e":573,"c":24,"p":-0.8},{"e":573.5,"c":34,"p":1.1},{"e":574,"c":18,"p":-1.9},{"e":574.5,"c":31,"p":0.5},{"e":575,"c":29,"p":0.2},
      {"e":575.5,"c":25,"p":-0.5},{"e":576,"c":35,"p":1.3},{"e":576.5,"c":22,"p":-1.2},{"e":577,"c":32,"p":0.8},{"e":577.5,"c":13,"p":-2.8},{"e":578,"c":31,"p":0.6},{"e":578.5,"c":24,"p":-0.7},{"e":579,"c":33,"p":1.1},{"e":579.5,"c":21,"p":-1.3},{"e":580,"c":28,"p":0.1},
      {"e":580.5,"c":29,"p":0.3},{"e":581,"c":36,"p":0.5},{"e":581.5,"c":86,"p":-0.4},{"e":582,"c":382,"p":0.4},{"e":582.5,"c":1080,"p":-0.5},{"e":583,"c":1880,"p":0.6},{"e":583.5,"c":1720,"p":-0.6},{"e":584,"c":940,"p":0.7},{"e":584.5,"c":270,"p":-0.5},{"e":585,"c":66,"p":0.6},
      {"e":585.5,"c":17,"p":-1.1},{"e":586,"c":14,"p":-1.0},{"e":586.5,"c":24,"p":1.4},{"e":587,"c":30,"p":2.8},{"e":587.5,"c":17,"p":-0.3},{"e":588,"c":12,"p":-1.5},{"e":588.5,"c":20,"p":0.5},{"e":589,"c":10,"p":-2.0},{"e":589.5,"c":19,"p":0.2},{"e":590,"c":22,"p":0.9},
      {"e":590.5,"c":15,"p":-0.7},{"e":591,"c":18,"p":0},{"e":591.5,"c":13,"p":-1.2},{"e":592,"c":21,"p":0.8},{"e":592.5,"c":17,"p":-0.2},{"e":593,"c":26,"p":2.0},{"e":593.5,"c":16,"p":-0.4},{"e":594,"c":20,"p":0.6},{"e":594.5,"c":27,"p":2.4},{"e":595,"c":14,"p":-0.8},
      {"e":595.5,"c":18,"p":0.2},{"e":596,"c":12,"p":-1.2},{"e":596.5,"c":22,"p":1.2},{"e":597,"c":16,"p":-0.2},{"e":597.5,"c":19,"p":0.4},{"e":598,"c":13,"p":-1.0},{"e":598.5,"c":20,"p":0.7},{"e":599,"c":17,"p":0},{"e":599.5,"c":15,"p":-0.5},{"e":600,"c":23,"p":1.5},
      {"e":600.5,"c":11,"p":-1.4},{"e":601,"c":18,"p":0.3},{"e":601.5,"c":16,"p":-0.3},{"e":602,"c":21,"p":1.1},{"e":602.5,"c":14,"p":-0.7},{"e":603,"c":19,"p":0.5},{"e":603.5,"c":12,"p":-1.1},{"e":604,"c":17,"p":0.1},{"e":604.5,"c":22,"p":1.4},{"e":605,"c":15,"p":-0.4},
      {"e":605.5,"c":18,"p":0.3},{"e":606,"c":10,"p":-1.6},{"e":606.5,"c":20,"p":0.9},{"e":607,"c":16,"p":0},{"e":607.5,"c":13,"p":-0.7},{"e":608,"c":19,"p":0.7},{"e":608.5,"c":17,"p":0.2},{"e":609,"c":14,"p":-0.5},{"e":609.5,"c":21,"p":1.3},{"e":610,"c":12,"p":-1.0},
      {"e":610.5,"c":16,"p":0},{"e":611,"c":8,"p":-2.0},{"e":611.5,"c":18,"p":0.5},{"e":612,"c":15,"p":-0.2},{"e":612.5,"c":20,"p":1.0},{"e":613,"c":13,"p":-0.7},{"e":613.5,"c":17,"p":0.3},{"e":614,"c":22,"p":1.5},{"e":614.5,"c":14,"p":-0.5},{"e":615,"c":16,"p":0},
      {"e":615.5,"c":19,"p":0.8},{"e":616,"c":11,"p":-1.2},{"e":616.5,"c":17,"p":0.3},{"e":617,"c":15,"p":-0.2},{"e":617.5,"c":20,"p":1.1},{"e":618,"c":13,"p":-0.7},{"e":618.5,"c":16,"p":0},{"e":619,"c":21,"p":1.4},{"e":619.5,"c":12,"p":-1.0},{"e":620,"c":14,"p":-0.5}
    ],
    "f3": [
      {"e":530,"f":32.5},{"e":540,"f":31.4},{"e":550,"f":30.3},{"e":560,"f":29.3},{"e":570,"f":28.4},{"e":580,"f":27.5},{"e":580.8,"f":29.4},{"e":581.2,"f":44},{"e":581.6,"f":120},{"e":582,"f":375},{"e":582.4,"f":924},{"e":582.8,"f":1610},{"e":583.2,"f":1940},{"e":583.6,"f":1608},{"e":584,"f":920},{"e":584.4,"f":369},{"e":584.8,"f":112},{"e":585.2,"f":35.6},{"e":585.6,"f":20.5},{"e":586,"f":18.4},{"e":590,"f":18.0},{"e":600,"f":17.3},{"e":610,"f":16.6},{"e":620,"f":16.0}
    ],
    "h4": [
      {"e":710.5,"c":15,"p":0.5},{"e":711,"c":9,"p":-1.1},{"e":711.5,"c":18,"p":1.4},{"e":712,"c":12,"p":-0.3},{"e":712.5,"c":14,"p":0.3},{"e":713,"c":22,"p":2.5},{"e":713.5,"c":8,"p":-1.4},{"e":714,"c":13,"p":0},{"e":714.5,"c":16,"p":0.8},{"e":715,"c":10,"p":-0.8},
      {"e":715.5,"c":7,"p":-1.7},{"e":716,"c":14,"p":0.3},{"e":716.5,"c":18,"p":1.4},{"e":717,"c":11,"p":-0.6},{"e":717.5,"c":9,"p":-1.1},{"e":718,"c":15,"p":0.5},{"e":718.5,"c":12,"p":-0.3},{"e":719,"c":17,"p":1.1},{"e":719.5,"c":8,"p":-1.4},{"e":720,"c":13,"p":0},
      {"e":720.5,"c":10,"p":-0.8},{"e":721,"c":16,"p":0.8},{"e":721.5,"c":19,"p":1.7},{"e":722,"c":14,"p":0.3},{"e":722.5,"c":18,"p":1.4},{"e":723,"c":24,"p":3.0},{"e":723.5,"c":20,"p":1.9},{"e":724,"c":15,"p":0.5},{"e":724.5,"c":21,"p":2.1},{"e":725,"c":9,"p":-1.5},
      {"e":725.5,"c":24,"p":-0.5},{"e":726,"c":86,"p":0.7},{"e":726.5,"c":200,"p":-0.6},{"e":727,"c":368,"p":0.6},{"e":727.5,"c":360,"p":-0.7},{"e":728,"c":248,"p":0.5},{"e":728.5,"c":92,"p":-0.6},{"e":729,"c":33,"p":0.4},{"e":729.5,"c":11,"p":-0.9},{"e":730,"c":13,"p":0.5},
      {"e":730.5,"c":7,"p":-1.3},{"e":731,"c":15,"p":1.1},{"e":731.5,"c":9,"p":-0.7},{"e":732,"c":12,"p":0.2},{"e":732.5,"c":14,"p":0.9},{"e":733,"c":8,"p":-0.9},{"e":733.5,"c":13,"p":0.6},{"e":734,"c":5,"p":-1.8},{"e":734.5,"c":16,"p":1.5},{"e":735,"c":10,"p":-0.3},
      {"e":735.5,"c":12,"p":0.3},{"e":736,"c":7,"p":-1.2},{"e":736.5,"c":14,"p":1.0},{"e":737,"c":11,"p":0.1},{"e":737.5,"c":6,"p":-1.5},{"e":738,"c":13,"p":0.7},{"e":738.5,"c":16,"p":1.6},{"e":739,"c":17,"p":1.9},{"e":739.5,"c":15,"p":1.3},{"e":740,"c":9,"p":-0.5},
      {"e":740.5,"c":12,"p":0.4},{"e":741,"c":8,"p":-0.8},{"e":741.5,"c":14,"p":1.0},{"e":742,"c":5,"p":-1.7},{"e":742.5,"c":4,"p":-2.0},{"e":743,"c":11,"p":0.2},{"e":743.5,"c":16,"p":1.7},{"e":744,"c":9,"p":-0.5},{"e":744.5,"c":13,"p":0.8},{"e":745,"c":7,"p":-1.1},
      {"e":745.5,"c":12,"p":0.5},{"e":746,"c":10,"p":-0.1},{"e":746.5,"c":14,"p":1.1},{"e":747,"c":8,"p":-0.7},{"e":747.5,"c":5,"p":-1.7},{"e":748,"c":11,"p":0.2},{"e":748.5,"c":15,"p":1.4},{"e":749,"c":19,"p":2.7},{"e":749.5,"c":9,"p":-0.4},{"e":750,"c":13,"p":0.8},
      {"e":750.5,"c":16,"p":1.8},{"e":751,"c":18,"p":2.4},{"e":751.5,"c":10,"p":-0.1},{"e":752,"c":7,"p":-1.0},{"e":752.5,"c":12,"p":0.6},{"e":753,"c":18,"p":2.4},{"e":753.5,"c":9,"p":-0.4},{"e":754,"c":14,"p":1.2},{"e":754.5,"c":11,"p":0.3},{"e":755,"c":6,"p":-1.3},
      {"e":755.5,"c":13,"p":0.9},{"e":756,"c":8,"p":-0.7},{"e":756.5,"c":12,"p":0.6},{"e":757,"c":10,"p":0},{"e":757.5,"c":7,"p":-1.0},{"e":758,"c":15,"p":1.5},{"e":758.5,"c":11,"p":0.3},{"e":759,"c":9,"p":-0.3},{"e":759.5,"c":13,"p":0.9},{"e":760,"c":6,"p":-1.3},
      {"e":760.5,"c":12,"p":0.6},{"e":761,"c":16,"p":1.8},{"e":761.5,"c":11,"p":-0.4},{"e":762,"c":20,"p":0.6},{"e":762.5,"c":31,"p":0.6},{"e":763,"c":45,"p":0.8},{"e":763.5,"c":48,"p":0.4},{"e":764,"c":36,"p":-0.5},{"e":764.5,"c":24,"p":-0.7},{"e":765,"c":19,"p":0.4},
      {"e":765.5,"c":3,"p":-2.6},{"e":766,"c":8,"p":-0.7},{"e":766.5,"c":12,"p":0.6},{"e":767,"c":14,"p":1.2},{"e":767.5,"c":9,"p":-0.3},{"e":768,"c":6,"p":-1.3},{"e":768.5,"c":15,"p":1.5},{"e":769,"c":11,"p":0.3},{"e":769.5,"c":13,"p":0.9},{"e":770,"c":8,"p":-0.6},
      {"e":770.5,"c":10,"p":0},{"e":771,"c":12,"p":0.6},{"e":771.5,"c":7,"p":-1.0},{"e":772,"c":3,"p":-2.4},{"e":772.5,"c":11,"p":0.3},{"e":773,"c":14,"p":1.2},{"e":773.5,"c":9,"p":-0.3},{"e":774,"c":12,"p":0.6},{"e":774.5,"c":16,"p":1.8},{"e":775,"c":8,"p":-0.6},
      {"e":775.5,"c":10,"p":0},{"e":776,"c":13,"p":0.9},{"e":776.5,"c":6,"p":-1.3},{"e":777,"c":11,"p":0.3},{"e":777.5,"c":18,"p":2.4},{"e":778,"c":9,"p":-0.3},{"e":778.5,"c":12,"p":0.6},{"e":779,"c":5,"p":-1.6},{"e":779.5,"c":10,"p":0},{"e":780,"c":14,"p":1.2},
      {"e":780.5,"c":7,"p":-1.0},{"e":781,"c":11,"p":0.3},{"e":781.5,"c":4,"p":-1.9},{"e":782,"c":13,"p":0.9},{"e":782.5,"c":9,"p":-0.3},{"e":783,"c":11,"p":-0.3},{"e":783.5,"c":19,"p":0.4},{"e":784,"c":27,"p":-0.4},{"e":784.5,"c":52,"p":0.7},{"e":785,"c":60,"p":-0.3},
      {"e":785.5,"c":70,"p":0.8},{"e":786,"c":47,"p":-0.5},{"e":786.5,"c":35,"p":0.4},{"e":787,"c":16,"p":-0.7},{"e":787.5,"c":15,"p":0.6},{"e":788,"c":8,"p":-0.8},{"e":788.5,"c":12,"p":0.6},{"e":789,"c":6,"p":-1.3},{"e":789.5,"c":13,"p":0.9},{"e":790,"c":10,"p":0},
      {"e":790.5,"c":16,"p":1.8},{"e":791,"c":8,"p":-0.6},{"e":791.5,"c":11,"p":0.3},{"e":792,"c":14,"p":1.2},{"e":792.5,"c":7,"p":-1.0},{"e":793,"c":3,"p":-2.4},{"e":793.5,"c":12,"p":0.6},{"e":794,"c":9,"p":-0.3},{"e":794.5,"c":15,"p":1.5},{"e":795,"c":11,"p":0.3},
      {"e":795.5,"c":17,"p":2.1},{"e":796,"c":8,"p":-0.6},{"e":796.5,"c":12,"p":0.6},{"e":797,"c":5,"p":-1.6},{"e":797.5,"c":13,"p":0.9},{"e":798,"c":10,"p":0},{"e":798.5,"c":14,"p":1.2},{"e":799,"c":7,"p":-1.0},{"e":799.5,"c":11,"p":0.3},{"e":800,"c":6,"p":-1.3}
    ],
    "f4": [
      {"e":710,"f":13.1},{"e":724,"f":13.0},{"e":724.5,"f":13.1},{"e":725,"f":14.7},{"e":725.5,"f":26.8},{"e":726,"f":80},{"e":726.5,"f":209},{"e":727,"f":356},{"e":727.3,"f":388},{"e":727.6,"f":356},{"e":728.1,"f":208},{"e":728.6,"f":79},{"e":729.1,"f":25.4},{"e":729.6,"f":13.2},{"e":730.2,"f":11.4},
      {"e":740,"f":10.8},{"e":750,"f":10.4},{"e":760,"f":10.1},{"e":761,"f":10.5},{"e":761.5,"f":12.3},{"e":762,"f":17.4},{"e":762.5,"f":27.5},{"e":763,"f":39.4},{"e":763.5,"f":45},{"e":764,"f":39.4},{"e":764.5,"f":27.5},{"e":765,"f":17.4},{"e":765.5,"f":12.2},{"e":766.2,"f":10.2},{"e":767,"f":10.0},
      {"e":782,"f":10.0},{"e":782.5,"f":10.4},{"e":783,"f":12.1},{"e":783.5,"f":17.4},{"e":784,"f":29.4},{"e":784.5,"f":47},{"e":785,"f":62},{"e":785.3,"f":65},{"e":785.6,"f":62},{"e":786.1,"f":47},{"e":786.6,"f":29.4},{"e":787.1,"f":17.4},{"e":787.6,"f":12.1},{"e":788.3,"f":10.2},{"e":789,"f":10},{"e":800,"f":10}
    ],
    "h5": [
      {"e":850.5,"c":12,"p":0.8},{"e":851.5,"c":6,"p":-1.1},{"e":852.5,"c":10,"p":0.2},{"e":853.5,"c":3,"p":-2.1},{"e":854.5,"c":13,"p":1.1},{"e":855.5,"c":8,"p":-0.5},{"e":856.5,"c":11,"p":0.5},{"e":857.5,"c":10,"p":-0.6},{"e":858,"c":17,"p":-0.6},{"e":858.5,"c":44,"p":0.6},
      {"e":859,"c":80,"p":-0.4},{"e":859.5,"c":156,"p":0.6},{"e":860,"c":205,"p":-0.5},{"e":860.5,"c":250,"p":0.7},{"e":861,"c":218,"p":0.4},{"e":861.5,"c":141,"p":-0.7},{"e":862,"c":88,"p":0.4},{"e":862.5,"c":36,"p":-0.6},{"e":863,"c":22,"p":0.6},{"e":863.5,"c":9,"p":-0.9},
      {"e":864.5,"c":11,"p":0.67},{"e":865.5,"c":7,"p":-0.67},{"e":866.5,"c":12,"p":1.0},{"e":867.5,"c":4,"p":-1.67},{"e":868.5,"c":1,"p":-2.67},{"e":869.5,"c":10,"p":0.33},{"e":870.5,"c":8,"p":-0.33},{"e":871.5,"c":13,"p":1.33},{"e":872.5,"c":6,"p":-1.0},{"e":873.5,"c":9,"p":0},
      {"e":874.5,"c":11,"p":0.67},{"e":875.5,"c":5,"p":-1.33},{"e":876.5,"c":15,"p":2.0},{"e":877.5,"c":8,"p":-0.33},{"e":878.5,"c":10,"p":0.33},{"e":879.5,"c":7,"p":-0.67},{"e":880.5,"c":12,"p":1.0},{"e":881.5,"c":4,"p":-1.67},{"e":882.5,"c":9,"p":0},{"e":883.5,"c":14,"p":1.67},
      {"e":884.5,"c":6,"p":-1.0},{"e":885.5,"c":11,"p":0.67},{"e":886.5,"c":8,"p":-0.33},{"e":887.5,"c":3,"p":-2.0},{"e":888.5,"c":10,"p":0.33},{"e":889.5,"c":13,"p":1.33},{"e":890.5,"c":7,"p":-0.67},{"e":891,"c":12,"p":0.6},{"e":891.5,"c":11,"p":-0.3},{"e":892,"c":19,"p":0.7},
      {"e":892.5,"c":18,"p":-0.7},{"e":893,"c":27,"p":0.5},{"e":893.5,"c":22,"p":-0.6},{"e":894,"c":24,"p":0.6},{"e":894.5,"c":14,"p":-0.5},{"e":895,"c":10,"p":-0.6},{"e":895.5,"c":13,"p":1.0},{"e":896.5,"c":6,"p":-0.9},{"e":897.5,"c":9,"p":0.2},{"e":898.5,"c":15,"p":2.2},
      {"e":899.5,"c":17,"p":2.9},{"e":900.5,"c":11,"p":0.9},{"e":901.5,"c":4,"p":-1.6},{"e":902.5,"c":8,"p":-0.2},{"e":903.5,"c":10,"p":0.5},{"e":904.5,"c":6,"p":-0.9},{"e":905.5,"c":12,"p":1.2},{"e":906.5,"c":3,"p":-1.9},{"e":907.5,"c":9,"p":0.2},{"e":908.5,"c":13,"p":1.6},
      {"e":909.5,"c":7,"p":-0.5},{"e":910.5,"c":10,"p":0.5},{"e":911.5,"c":5,"p":-1.2},{"e":912.5,"c":14,"p":1.9},{"e":913.5,"c":8,"p":-0.2},{"e":914.5,"c":16,"p":2.6},{"e":915.5,"c":6,"p":-0.9},{"e":916.5,"c":11,"p":0.9},{"e":917.5,"c":3,"p":-1.9},{"e":918.5,"c":9,"p":0.2},
      {"e":919.5,"c":12,"p":1.2},{"e":920.5,"c":7,"p":-0.5},{"e":921.5,"c":10,"p":0.5},{"e":922.5,"c":4,"p":-1.6},{"e":923.5,"c":13,"p":1.6},{"e":924.5,"c":8,"p":-0.2},{"e":925.5,"c":11,"p":0.9},{"e":926.5,"c":18,"p":3.3},{"e":927.5,"c":6,"p":-0.9},{"e":928.5,"c":9,"p":0.2},
      {"e":929.5,"c":2,"p":-2.2},{"e":930.5,"c":12,"p":1.2},{"e":931.5,"c":5,"p":-1.2},{"e":932.5,"c":8,"p":-0.2},{"e":933.5,"c":14,"p":1.9},{"e":934.5,"c":3,"p":-1.9},{"e":935.5,"c":10,"p":0.5},{"e":936.5,"c":7,"p":-0.5},{"e":937.5,"c":16,"p":2.6},{"e":938.5,"c":9,"p":0.2},
      {"e":939.5,"c":4,"p":-1.6},{"e":940.5,"c":17,"p":3.0},{"e":941.5,"c":11,"p":0.9},{"e":942.5,"c":6,"p":-0.9},{"e":943.5,"c":8,"p":-0.2},{"e":944.5,"c":13,"p":1.6},{"e":945.5,"c":5,"p":-1.2},{"e":946.5,"c":10,"p":0.5},{"e":947.5,"c":3,"p":-1.9},{"e":948.5,"c":12,"p":1.2},
      {"e":949.5,"c":7,"p":-0.5},{"e":950,"c":11,"p":0.7},{"e":950.5,"c":8,"p":-0.8},{"e":951,"c":15,"p":0.5},{"e":951.5,"c":13,"p":-0.6},{"e":952,"c":17,"p":0.1},{"e":952.5,"c":18,"p":0.7},{"e":953,"c":11,"p":-0.6},{"e":953.5,"c":12,"p":0.4},{"e":954,"c":6,"p":-1.0},
      {"e":955.5,"c":9,"p":0.4},{"e":956.5,"c":4,"p":-1.4},{"e":957.5,"c":11,"p":1.1},{"e":958.5,"c":7,"p":-0.3},{"e":959.5,"c":13,"p":1.9},{"e":960.5,"c":2,"p":-2.1},{"e":961.5,"c":8,"p":0.1},{"e":962.5,"c":10,"p":0.8},{"e":963.5,"c":5,"p":-1.0},{"e":964.5,"c":12,"p":1.5},
      {"e":965.5,"c":6,"p":-0.6},{"e":966.5,"c":18,"p":3.6},{"e":967.5,"c":9,"p":0.4},{"e":968.5,"c":3,"p":-1.7},{"e":969.5,"c":11,"p":1.1},{"e":970.5,"c":7,"p":-0.3},{"e":971.5,"c":14,"p":2.2},{"e":972.5,"c":4,"p":-1.4},{"e":973.5,"c":8,"p":0.1},{"e":974.5,"c":10,"p":0.8},
      {"e":975.5,"c":2,"p":-2.1},{"e":976.5,"c":12,"p":1.5},{"e":977.5,"c":6,"p":-0.6},{"e":978.5,"c":9,"p":0.4},{"e":979.5,"c":3,"p":-1.7},{"e":980.5,"c":13,"p":1.9},{"e":981.5,"c":7,"p":-0.3},{"e":982.5,"c":10,"p":0.8},{"e":983.5,"c":5,"p":-1.0},{"e":984.5,"c":15,"p":2.6},
      {"e":985.5,"c":8,"p":0.1},{"e":986.5,"c":4,"p":-1.4},{"e":987.5,"c":11,"p":1.1},{"e":988.5,"c":2,"p":-2.1},{"e":989.5,"c":9,"p":0.4},{"e":990.5,"c":1,"p":-2.4},{"e":991.5,"c":6,"p":-0.6},{"e":992.5,"c":1,"p":-2.4},{"e":993.5,"c":10,"p":0.8},{"e":994.5,"c":1,"p":-2.4},
      {"e":995.5,"c":7,"p":-0.3},{"e":996.5,"c":12,"p":1.5},{"e":997.5,"c":3,"p":-1.7},{"e":998.5,"c":9,"p":0.4},{"e":999.5,"c":5,"p":-1.0},{"e":1000.5,"c":13,"p":2.1},{"e":1001.5,"c":6,"p":-0.5},{"e":1002.5,"c":10,"p":1.0},{"e":1003.5,"c":2,"p":-2.0},{"e":1004.5,"c":8,"p":0.3},
      {"e":1005.5,"c":11,"p":1.4},{"e":1006.5,"c":4,"p":-1.2},{"e":1007.5,"c":7,"p":-0.1},{"e":1008.5,"c":14,"p":2.5},{"e":1009.5,"c":9,"p":0.6},{"e":1010.5,"c":3,"p":-1.6},{"e":1011.5,"c":12,"p":1.7},{"e":1012.5,"c":6,"p":-0.5},{"e":1013.5,"c":8,"p":0.3},{"e":1014.5,"c":5,"p":-0.9},
      {"e":1015.5,"c":10,"p":1.0},{"e":1016.5,"c":2,"p":-2.0},{"e":1017.5,"c":9,"p":0.6},{"e":1018.5,"c":13,"p":2.1},{"e":1019.5,"c":7,"p":-0.1},{"e":1020.5,"c":4,"p":-1.2},{"e":1021.5,"c":11,"p":1.4},{"e":1022.5,"c":8,"p":0.3},{"e":1023.5,"c":6,"p":-0.5},{"e":1024.5,"c":15,"p":2.8},
      {"e":1025.5,"c":3,"p":-1.6},{"e":1026.5,"c":9,"p":0.6},{"e":1027.5,"c":7,"p":-0.1},{"e":1028.5,"c":1,"p":-2.3},{"e":1029.5,"c":10,"p":1.0},{"e":1030.5,"c":5,"p":-0.9},{"e":1031.5,"c":12,"p":1.7},{"e":1032.5,"c":8,"p":0.3},{"e":1033.5,"c":1,"p":-2.3},{"e":1034.5,"c":6,"p":-0.5},
      {"e":1035.5,"c":11,"p":1.4},{"e":1036.5,"c":4,"p":-1.2},{"e":1037.5,"c":9,"p":0.6},{"e":1038.5,"c":13,"p":2.1},{"e":1039.5,"c":7,"p":-0.1},{"e":1040.5,"c":3,"p":-1.6},{"e":1041.5,"c":10,"p":1.0},{"e":1042.5,"c":6,"p":-0.5},{"e":1043.5,"c":8,"p":0.3},{"e":1044.5,"c":14,"p":2.5},
      {"e":1045.5,"c":5,"p":-0.9},{"e":1046.5,"c":9,"p":0.6},{"e":1047.5,"c":2,"p":-2.0},{"e":1048.5,"c":11,"p":1.4},{"e":1049.5,"c":7,"p":-0.1},{"e":1050.5,"c":12,"p":1.9},{"e":1051.5,"c":4,"p":-1.1},{"e":1052.5,"c":8,"p":0.4},{"e":1053.5,"c":6,"p":-0.4},{"e":1054.5,"c":10,"p":1.1},
      {"e":1055.5,"c":3,"p":-1.5},{"e":1056.5,"c":15,"p":3.0},{"e":1057.5,"c":7,"p":0},{"e":1058.5,"c":9,"p":0.8},{"e":1059.5,"c":5,"p":-0.8},{"e":1060.5,"c":11,"p":1.5},{"e":1061.5,"c":2,"p":-1.9},{"e":1062.5,"c":1,"p":-2.3},{"e":1063.5,"c":8,"p":0.4},{"e":1064.5,"c":6,"p":-0.4},
      {"e":1065.5,"c":13,"p":2.3},{"e":1066.5,"c":4,"p":-1.1},{"e":1067.5,"c":10,"p":1.1},{"e":1068.5,"c":7,"p":0},{"e":1069.5,"c":3,"p":-1.5},{"e":1070.5,"c":9,"p":0.8},{"e":1071.5,"c":12,"p":1.9},{"e":1072.5,"c":5,"p":-0.8},{"e":1073.5,"c":8,"p":0.4},{"e":1074.5,"c":6,"p":-0.4},
      {"e":1075.5,"c":2,"p":-1.9},{"e":1076.5,"c":10,"p":0.8},{"e":1077,"c":8,"p":-0.6},{"e":1077.5,"c":17,"p":0.7},{"e":1078,"c":18,"p":-0.6},{"e":1078.5,"c":34,"p":1.4},{"e":1079,"c":27,"p":-0.5},{"e":1079.5,"c":29,"p":0.4},{"e":1080,"c":17,"p":-0.8},{"e":1080.5,"c":16,"p":0.5},
      {"e":1081,"c":7,"p":-0.9},{"e":1081.5,"c":9,"p":0.5},{"e":1082.5,"c":5,"p":-0.6},{"e":1083.5,"c":10,"p":1.3},{"e":1084.5,"c":3,"p":-1.4},{"e":1085.5,"c":8,"p":0.5},{"e":1086.5,"c":6,"p":-0.2},{"e":1087.5,"c":12,"p":2.1},{"e":1088.5,"c":4,"p":-1.0},{"e":1089.5,"c":9,"p":0.9},
      {"e":1090.5,"c":2,"p":-1.8},{"e":1091.5,"c":1,"p":-2.2},{"e":1092.5,"c":7,"p":0.2},{"e":1093.5,"c":15,"p":3.3},{"e":1094.5,"c":13,"p":2.5},{"e":1095.5,"c":5,"p":-0.6},{"e":1096.5,"c":10,"p":1.3},{"e":1097.5,"c":6,"p":-0.2},{"e":1098.5,"c":14,"p":2.9},{"e":1099.5,"c":1,"p":-2.2}
    ],
    "f5": [
      {"e":850,"f":9.7},{"e":857,"f":9.6},{"e":857.5,"f":12.1},{"e":858,"f":19.5},{"e":858.5,"f":40.4},{"e":859,"f":84},{"e":859.5,"f":149},{"e":860,"f":212},{"e":860.5,"f":239},{"e":861,"f":212},{"e":861.5,"f":149},{"e":862,"f":84},{"e":862.5,"f":40},{"e":863,"f":19.4},{"e":863.5,"f":12},{"e":864.2,"f":9.2},{"e":865,"f":8.9},
      {"e":890,"f":8.6},{"e":890.8,"f":9.3},{"e":891.3,"f":10.8},{"e":891.8,"f":14},{"e":892.3,"f":18.6},{"e":892.8,"f":23.2},{"e":893.3,"f":25},{"e":893.8,"f":23.1},{"e":894.3,"f":18.5},{"e":894.8,"f":13.9},{"e":895.3,"f":10.7},{"e":895.8,"f":9.2},{"e":896.5,"f":8.5},{"e":920,"f":8.2},
      {"e":949,"f":7.95},{"e":949.5,"f":8.3},{"e":950,"f":9.0},{"e":950.5,"f":10.7},{"e":951,"f":13.1},{"e":951.5,"f":15.4},{"e":952,"f":16.4},{"e":952.5,"f":15.3},{"e":953,"f":13},{"e":953.5,"f":10.6},{"e":954,"f":8.9},{"e":954.5,"f":8.1},{"e":955.2,"f":7.8},
      {"e":1000,"f":7.3},{"e":1050,"f":7.0},{"e":1076,"f":6.8},{"e":1076.5,"f":7.8},{"e":1077,"f":9.9},{"e":1077.5,"f":14.2},{"e":1078,"f":20.6},{"e":1078.5,"f":26.8},{"e":1079,"f":29.5},{"e":1079.5,"f":26.7},{"e":1080,"f":20.5},{"e":1080.5,"f":14.1},{"e":1081,"f":9.8},{"e":1081.5,"f":7.6},{"e":1082.2,"f":6.6},{"e":1100,"f":6.4}
    ],
    "h6": [
      {"e":1450,"c":11,"p":2.16},{"e":1450.5,"c":6,"p":0.08},{"e":1451,"c":10,"p":1.74},{"e":1451.5,"c":4,"p":-0.75},{"e":1452,"c":7,"p":0.5},{"e":1452.5,"c":5,"p":-0.33},{"e":1453,"c":9,"p":1.33},{"e":1453.5,"c":1,"p":-1.99},{"e":1454,"c":1,"p":-1.99},{"e":1454.5,"c":6,"p":0.08},
      {"e":1455,"c":3,"p":-1.16},{"e":1455.5,"c":8,"p":0.91},{"e":1456,"c":4,"p":-0.75},{"e":1456.5,"c":2,"p":-1.58},{"e":1457,"c":7,"p":0.5},{"e":1457.5,"c":5,"p":-0.33},{"e":1458,"c":9,"p":1.33},{"e":1458.5,"c":3,"p":-1.16},{"e":1459,"c":6,"p":0.08},{"e":1459.5,"c":2,"p":-1.58},
      {"e":1460,"c":8,"p":0.91},{"e":1460.5,"c":5,"p":-0.33},{"e":1461,"c":4,"p":-0.75},{"e":1461.5,"c":7,"p":0.5},{"e":1462,"c":3,"p":-1.16},{"e":1462.5,"c":6,"p":0.08},{"e":1463,"c":10,"p":1.74},{"e":1463.5,"c":5,"p":-0.33},{"e":1464,"c":2,"p":-1.58},{"e":1464.5,"c":7,"p":0.5},
      {"e":1465,"c":4,"p":-0.75},{"e":1465.5,"c":8,"p":0.91},{"e":1466,"c":6,"p":0.08},{"e":1466.5,"c":3,"p":-1.16},{"e":1467,"c":11,"p":2.16},{"e":1467.5,"c":5,"p":-0.33},{"e":1468,"c":7,"p":0.5},{"e":1468.5,"c":2,"p":-1.58},{"e":1469,"c":6,"p":0.08},{"e":1469.5,"c":9,"p":1.33},
      {"e":1470,"c":4,"p":-0.75},{"e":1470.5,"c":7,"p":0.5},{"e":1471,"c":3,"p":-1.16},{"e":1471.5,"c":5,"p":-0.33},{"e":1472,"c":8,"p":0.91},{"e":1472.5,"c":6,"p":0.08},{"e":1473,"c":2,"p":-1.58},{"e":1473.5,"c":9,"p":1.33},{"e":1474,"c":4,"p":-0.75},{"e":1474.5,"c":10,"p":1.74},
      {"e":1475,"c":6,"p":0.08},{"e":1475.5,"c":3,"p":-1.16},{"e":1476,"c":8,"p":0.91},{"e":1476.5,"c":0,"p":-3.4},{"e":1477,"c":5,"p":-0.33},{"e":1477.5,"c":7,"p":0.5},{"e":1478,"c":3,"p":-1.16},{"e":1478.5,"c":9,"p":1.33},{"e":1479,"c":6,"p":0.08},{"e":1479.5,"c":4,"p":-0.75},
      {"e":1480,"c":8,"p":0.91},{"e":1480.5,"c":2,"p":-1.58},{"e":1481,"c":6,"p":0.08},{"e":1481.5,"c":10,"p":1.74},{"e":1482,"c":5,"p":-0.33},{"e":1482.5,"c":3,"p":-1.16},{"e":1483,"c":7,"p":0.5},{"e":1483.5,"c":11,"p":2.16},{"e":1484,"c":4,"p":-0.75},{"e":1484.5,"c":11,"p":2.16},
      {"e":1485,"c":6,"p":0.08},{"e":1485.5,"c":2,"p":-1.58},{"e":1486,"c":8,"p":0.91},{"e":1486.5,"c":5,"p":-0.33},{"e":1487,"c":3,"p":-1.16},{"e":1487.5,"c":7,"p":0.5},{"e":1488,"c":4,"p":-0.75},{"e":1488.5,"c":9,"p":1.33},{"e":1489,"c":6,"p":0.08},{"e":1489.5,"c":2,"p":-1.58},
      {"e":1490,"c":10,"p":1.74},{"e":1490.5,"c":1,"p":-1.99},{"e":1491,"c":7,"p":0.5},{"e":1491.5,"c":11,"p":2.16},{"e":1492,"c":5,"p":-0.33},{"e":1492.5,"c":3,"p":-1.16},{"e":1493,"c":6,"p":0.08},{"e":1493.5,"c":8,"p":0.91},{"e":1494,"c":2,"p":-1.58},{"e":1494.5,"c":5,"p":-0.33},
      {"e":1495,"c":7,"p":0.5},{"e":1495.5,"c":4,"p":-0.75},{"e":1496,"c":9,"p":1.33},{"e":1496.5,"c":6,"p":0.08},{"e":1497,"c":3,"p":-1.16},{"e":1497.5,"c":8,"p":0.91},{"e":1498,"c":5,"p":-0.33},{"e":1498.5,"c":2,"p":-1.58},{"e":1499,"c":7,"p":0.5},{"e":1499.5,"c":10,"p":1.74},
      {"e":1500,"c":4,"p":-0.75},{"e":1500.5,"c":6,"p":0.08},{"e":1501,"c":3,"p":-1.16},{"e":1501.5,"c":9,"p":1.33},{"e":1502,"c":5,"p":-0.33},{"e":1502.5,"c":11,"p":2.16},{"e":1503,"c":7,"p":0.5},{"e":1503.5,"c":4,"p":-0.75},{"e":1504,"c":8,"p":0.91},{"e":1504.5,"c":2,"p":-1.58},
      {"e":1505,"c":1,"p":-1.99},{"e":1505.5,"c":6,"p":0.08},{"e":1506,"c":9,"p":1.33},{"e":1506.5,"c":13,"p":2.99},{"e":1507,"c":5,"p":-0.33},{"e":1507.5,"c":10,"p":1.74},{"e":1508,"c":3,"p":-1.16},{"e":1508.5,"c":7,"p":0.5},{"e":1509,"c":4,"p":-0.75},{"e":1509.5,"c":1,"p":-1.99},
      {"e":1510,"c":6,"p":0.06},{"e":1510.5,"c":8,"p":0.77},{"e":1511,"c":9,"p":0.71},{"e":1511.5,"c":7,"p":-0.83},{"e":1512,"c":14,"p":0.25},{"e":1512.5,"c":18,"p":0.66},{"e":1513,"c":16,"p":0.45},{"e":1513.5,"c":10,"p":-0.27},{"e":1514,"c":9,"p":0.43},{"e":1514.5,"c":4,"p":-0.9},
      {"e":1515,"c":5,"p":-0.29},{"e":1515.5,"c":7,"p":0.61},{"e":1516,"c":3,"p":-1.08},{"e":1516.5,"c":6,"p":0.19},{"e":1517,"c":4,"p":-0.66},{"e":1517.5,"c":12,"p":2.73},{"e":1518,"c":5,"p":-0.23},{"e":1518.5,"c":8,"p":1.04},{"e":1519,"c":2,"p":-1.5},{"e":1519.5,"c":6,"p":0.19},
      {"e":1520,"c":4,"p":-0.66},{"e":1520.5,"c":9,"p":1.46},{"e":1521,"c":3,"p":-1.08},{"e":1521.5,"c":7,"p":0.61},{"e":1522,"c":5,"p":-0.23},{"e":1522.5,"c":2,"p":-1.5},{"e":1523,"c":8,"p":1.04},{"e":1523.5,"c":6,"p":0.19},{"e":1524,"c":4,"p":-0.66},{"e":1524.5,"c":10,"p":1.88},
      {"e":1525,"c":5,"p":-0.23},{"e":1525.5,"c":3,"p":-1.08},{"e":1526,"c":7,"p":0.61},{"e":1526.5,"c":9,"p":1.46},{"e":1527,"c":4,"p":-0.66},{"e":1527.5,"c":6,"p":0.19},{"e":1528,"c":2,"p":-1.5},{"e":1528.5,"c":8,"p":1.04},{"e":1529,"c":5,"p":-0.23},{"e":1529.5,"c":3,"p":-1.08},
      {"e":1530,"c":1,"p":-1.93},{"e":1530.5,"c":7,"p":0.61},{"e":1531,"c":4,"p":-0.66},{"e":1531.5,"c":9,"p":1.46},{"e":1532,"c":6,"p":0.19},{"e":1532.5,"c":2,"p":-1.5},{"e":1533,"c":5,"p":-0.23},{"e":1533.5,"c":8,"p":1.04},{"e":1534,"c":3,"p":-1.08},{"e":1534.5,"c":6,"p":0.19},
      {"e":1535,"c":10,"p":1.88},{"e":1535.5,"c":4,"p":-0.66},{"e":1536,"c":7,"p":0.61},{"e":1536.5,"c":2,"p":-1.5},{"e":1537,"c":5,"p":-0.23},{"e":1537.5,"c":9,"p":1.46},{"e":1538,"c":6,"p":0.19},{"e":1538.5,"c":3,"p":-1.08},{"e":1539,"c":8,"p":1.04},{"e":1539.5,"c":5,"p":-0.23},
      {"e":1540,"c":4,"p":-0.66},{"e":1540.5,"c":10,"p":1.88},{"e":1541,"c":7,"p":0.61},{"e":1541.5,"c":3,"p":-1.08},{"e":1542,"c":1,"p":-1.93},{"e":1542.5,"c":11,"p":2.31},{"e":1543,"c":6,"p":0.19},{"e":1543.5,"c":4,"p":-0.66},{"e":1544,"c":8,"p":1.04},{"e":1544.5,"c":5,"p":-0.23},
      {"e":1545,"c":2,"p":-1.5},{"e":1545.5,"c":9,"p":1.46},{"e":1546,"c":7,"p":0.61},{"e":1546.5,"c":4,"p":-0.66},{"e":1547,"c":12,"p":2.73},{"e":1547.5,"c":10,"p":1.88},{"e":1548,"c":6,"p":0.19},{"e":1548.5,"c":3,"p":-1.08},{"e":1549,"c":8,"p":1.04},{"e":1549.5,"c":5,"p":-0.23},
      {"e":1550,"c":7,"p":0.61},{"e":1550.5,"c":2,"p":-1.5},{"e":1551,"c":6,"p":0.19},{"e":1551.5,"c":9,"p":1.46},{"e":1552,"c":4,"p":-0.66},{"e":1552.5,"c":7,"p":0.61},{"e":1553,"c":3,"p":-1.08},{"e":1553.5,"c":8,"p":1.04},{"e":1554,"c":5,"p":-0.23},{"e":1554.5,"c":6,"p":0.19},
      {"e":1555,"c":2,"p":-1.5},{"e":1555.5,"c":9,"p":1.46},{"e":1556,"c":4,"p":-0.66},{"e":1556.5,"c":7,"p":0.61},{"e":1557,"c":5,"p":-0.23},{"e":1557.5,"c":3,"p":-1.08},{"e":1558,"c":8,"p":1.04},{"e":1558.5,"c":6,"p":0.19},{"e":1559,"c":11,"p":2.31},{"e":1559.5,"c":4,"p":-0.66},
      {"e":1560,"c":2,"p":-1.5},{"e":1560.5,"c":7,"p":0.61},{"e":1561,"c":3,"p":-1.08},{"e":1561.5,"c":5,"p":-0.23},{"e":1562,"c":0,"p":-3.2},{"e":1562.5,"c":3,"p":-1.08},{"e":1563,"c":7,"p":0.61},{"e":1563.5,"c":5,"p":-0.23},{"e":1564,"c":2,"p":-1.5},{"e":1564.5,"c":8,"p":1.04},
      {"e":1565,"c":6,"p":0.19},{"e":1565.5,"c":3,"p":-1.08},{"e":1566,"c":9,"p":1.46},{"e":1566.5,"c":4,"p":-0.66},{"e":1567,"c":6,"p":0.19},{"e":1567.5,"c":10,"p":1.88},{"e":1568,"c":5,"p":-0.23},{"e":1568.5,"c":2,"p":-1.5},{"e":1569,"c":7,"p":0.61},{"e":1569.5,"c":4,"p":-0.66},
      {"e":1570,"c":2,"p":-1.5}
    ],
    "f6": [
      {"e":1449.5,"f":6.1},{"e":1480,"f":5.95},{"e":1509,"f":5.8},{"e":1510,"f":5.85},{"e":1510.5,"f":6.1},{"e":1511,"f":7.1},{"e":1511.5,"f":9.55},{"e":1512,"f":13.1},{"e":1512.6,"f":15.5},{"e":1513.2,"f":13.1},{"e":1513.7,"f":9.5},{"e":1514.2,"f":7.0},{"e":1514.7,"f":5.93},{"e":1515.3,"f":5.6},{"e":1570,"f":5.55}
    ],
    "h7": [
      {"e":1600,"c":13,"p":2.27},{"e":1600.5,"c":12,"p":1.89},{"e":1601,"c":6,"p":-0.38},{"e":1601.5,"c":9,"p":0.76},{"e":1602,"c":4,"p":-1.13},{"e":1602.5,"c":7,"p":0},{"e":1603,"c":5,"p":-0.76},{"e":1603.5,"c":8,"p":0.38},{"e":1604,"c":4,"p":-1.13},{"e":1604.5,"c":12,"p":1.89},
      {"e":1605,"c":6,"p":-0.38},{"e":1605.5,"c":4,"p":-1.13},{"e":1606,"c":9,"p":0.76},{"e":1606.5,"c":13,"p":2.27},{"e":1607,"c":7,"p":0},{"e":1607.5,"c":5,"p":-0.76},{"e":1608,"c":9,"p":0.76},{"e":1608.5,"c":3,"p":-1.51},{"e":1609,"c":8,"p":0.38},{"e":1609.5,"c":6,"p":-0.38},
      {"e":1610,"c":10,"p":1.13},{"e":1610.5,"c":8,"p":0.38},{"e":1611,"c":4,"p":-1.13},{"e":1611.5,"c":6,"p":-0.38},{"e":1612,"c":1,"p":-2.27},{"e":1612.5,"c":8,"p":0.38},{"e":1613,"c":5,"p":-0.76},{"e":1613.5,"c":9,"p":0.76},{"e":1614,"c":2,"p":-1.89},{"e":1614.5,"c":12,"p":1.89},
      {"e":1615,"c":6,"p":-0.38},{"e":1615.5,"c":4,"p":-1.13},{"e":1616,"c":9,"p":0.76},{"e":1616.5,"c":7,"p":0},{"e":1617,"c":3,"p":-1.51},{"e":1617.5,"c":8,"p":0.26},{"e":1618,"c":5,"p":-1.15},{"e":1618.5,"c":12,"p":0.36},{"e":1619,"c":18,"p":0.5},{"e":1619.5,"c":22,"p":-0.56},
      {"e":1620,"c":39,"p":0.59},{"e":1620.5,"c":53,"p":1.21},{"e":1621,"c":46,"p":-0.39},{"e":1621.5,"c":48,"p":0.46},{"e":1622,"c":33,"p":-0.4},{"e":1622.5,"c":28,"p":0.66},{"e":1623,"c":13,"p":-0.73},{"e":1623.5,"c":3,"p":-2.35},{"e":1624,"c":9,"p":0.35},{"e":1624.5,"c":5,"p":-0.75},
      {"e":1625,"c":11,"p":1.87},{"e":1625.5,"c":7,"p":0.28},{"e":1626,"c":4,"p":-0.92},{"e":1626.5,"c":6,"p":-0.12},{"e":1627,"c":8,"p":0.68},{"e":1627.5,"c":5,"p":-0.52},{"e":1628,"c":9,"p":1.08},{"e":1628.5,"c":2,"p":-1.71},{"e":1629,"c":7,"p":0.28},{"e":1629.5,"c":2,"p":-1.71},
      {"e":1630,"c":5,"p":-0.52},{"e":1630.5,"c":8,"p":0.68},{"e":1631,"c":4,"p":-0.92},{"e":1631.5,"c":6,"p":-0.12},{"e":1632,"c":3,"p":-1.31},{"e":1632.5,"c":9,"p":1.08},{"e":1633,"c":5,"p":-0.52},{"e":1633.5,"c":7,"p":0.28},{"e":1634,"c":4,"p":-0.92},{"e":1634.5,"c":6,"p":-0.12},
      {"e":1635,"c":11,"p":1.87},{"e":1635.5,"c":8,"p":0.68},{"e":1636,"c":3,"p":-1.31},{"e":1636.5,"c":6,"p":-0.12},{"e":1637,"c":5,"p":-0.52},{"e":1637.5,"c":9,"p":1.08},{"e":1638,"c":4,"p":-0.92},{"e":1638.5,"c":7,"p":0.28},{"e":1639,"c":6,"p":-0.12},{"e":1639.5,"c":8,"p":0.68},
      {"e":1640,"c":0,"p":-3.6},{"e":1640.5,"c":11,"p":1.87},{"e":1641,"c":7,"p":0.28},{"e":1641.5,"c":6,"p":-0.12},{"e":1642,"c":9,"p":1.08},{"e":1642.5,"c":5,"p":-0.52},{"e":1643,"c":8,"p":0.68},{"e":1643.5,"c":4,"p":-0.92},{"e":1644,"c":7,"p":0.28},{"e":1644.5,"c":9,"p":1.08},
      {"e":1645,"c":10,"p":1.47},{"e":1645.5,"c":6,"p":-0.12},{"e":1646,"c":3,"p":-1.31},{"e":1646.5,"c":8,"p":0.68},{"e":1647,"c":5,"p":-0.52},{"e":1647.5,"c":10,"p":1.47},{"e":1648,"c":7,"p":0.28},{"e":1648.5,"c":4,"p":-0.92},{"e":1649,"c":6,"p":-0.12},{"e":1649.5,"c":9,"p":1.08},
      {"e":1650,"c":3,"p":-1.31},{"e":1650.5,"c":7,"p":0.28},{"e":1651,"c":5,"p":-0.52},{"e":1651.5,"c":8,"p":0.68},{"e":1652,"c":1,"p":-2.11},{"e":1652.5,"c":6,"p":-0.12},{"e":1653,"c":4,"p":-0.92},{"e":1653.5,"c":9,"p":1.08},{"e":1654,"c":12,"p":2.27},{"e":1654.5,"c":6,"p":-0.12},
      {"e":1655,"c":8,"p":0.68},{"e":1655.5,"c":12,"p":2.27},{"e":1656,"c":5,"p":-0.52},{"e":1656.5,"c":3,"p":-1.31},{"e":1657,"c":7,"p":0.28},{"e":1657.5,"c":4,"p":-0.92},{"e":1658,"c":9,"p":1.08},{"e":1658.5,"c":6,"p":-0.12},{"e":1659,"c":11,"p":1.87},{"e":1659.5,"c":5,"p":-0.52},
      {"e":1660,"c":8,"p":0.68},{"e":1660.5,"c":6,"p":-0.12},{"e":1661,"c":4,"p":-0.92},{"e":1661.5,"c":7,"p":0.28},{"e":1662,"c":3,"p":-1.31},{"e":1662.5,"c":8,"p":0.68},{"e":1663,"c":5,"p":-0.52},{"e":1663.5,"c":9,"p":1.08},{"e":1664,"c":1,"p":-2.11},{"e":1664.5,"c":13,"p":2.67},
      {"e":1665,"c":11,"p":1.87},{"e":1665.5,"c":6,"p":-0.12},{"e":1666,"c":4,"p":-0.92},{"e":1666.5,"c":8,"p":0.68},{"e":1667,"c":6,"p":-0.12},{"e":1667.5,"c":3,"p":-1.31},{"e":1668,"c":9,"p":1.08},{"e":1668.5,"c":5,"p":-0.52},{"e":1669,"c":7,"p":0.28},{"e":1669.5,"c":4,"p":-0.92},
      {"e":1670,"c":8,"p":0.68},{"e":1670.5,"c":6,"p":-0.12},{"e":1671,"c":3,"p":-1.31},{"e":1671.5,"c":9,"p":1.08},{"e":1672,"c":1,"p":-2.11},{"e":1672.5,"c":12,"p":2.27},{"e":1673,"c":10,"p":1.47},{"e":1673.5,"c":7,"p":0.28},{"e":1674,"c":3,"p":-1.31},{"e":1674.5,"c":5,"p":-0.52},
      {"e":1675,"c":5,"p":-0.52}
    ],
    "f7": [
      {"e":1600,"f":7.1},{"e":1610,"f":7.0},{"e":1617,"f":6.9},{"e":1617.5,"f":7.3},{"e":1618,"f":8.3},{"e":1618.5,"f":10.8},{"e":1619,"f":16},{"e":1619.5,"f":24.8},{"e":1620,"f":35.5},{"e":1620.5,"f":44.9},{"e":1621,"f":48.7},{"e":1621.5,"f":44.9},{"e":1622,"f":35.4},{"e":1622.5,"f":24.7},{"e":1623,"f":15.9},{"e":1623.5,"f":10.7},{"e":1624,"f":8.0},{"e":1624.5,"f":7.0},{"e":1625.2,"f":6.65},{"e":1675,"f":6.0}
    ],
    "h8": [
      {"e":2550,"c":1,"p":-0.03},{"e":2550.5,"c":3,"p":1.64},{"e":2551,"c":0,"p":-1.45},{"e":2551.5,"c":2,"p":0.96},{"e":2552,"c":5,"p":3.0},{"e":2552.5,"c":1,"p":-0.03},{"e":2553,"c":0,"p":-1.45},{"e":2553.5,"c":3,"p":1.64},{"e":2554,"c":1,"p":-0.03},{"e":2554.5,"c":0,"p":-1.45},
      {"e":2555,"c":2,"p":0.96},{"e":2555.5,"c":3,"p":1.64},{"e":2556,"c":0,"p":-1.45},{"e":2556.5,"c":1,"p":-0.03},{"e":2557,"c":3,"p":1.64},{"e":2557.5,"c":0,"p":-1.45},{"e":2558,"c":2,"p":0.96},{"e":2558.5,"c":1,"p":-0.03},{"e":2559,"c":0,"p":-1.45},{"e":2559.5,"c":3,"p":1.64},
      {"e":2560,"c":1,"p":-0.03},{"e":2560.5,"c":2,"p":0.96},{"e":2561,"c":0,"p":-1.45},{"e":2561.5,"c":3,"p":1.64},{"e":2562,"c":1,"p":-0.03},{"e":2562.5,"c":0,"p":-1.45},{"e":2563,"c":2,"p":0.96},{"e":2563.5,"c":3,"p":1.64},{"e":2564,"c":0,"p":-1.45},{"e":2564.5,"c":1,"p":-0.03},
      {"e":2565,"c":2,"p":0.96},{"e":2565.5,"c":0,"p":-1.45},{"e":2566,"c":3,"p":1.64},{"e":2566.5,"c":1,"p":-0.03},{"e":2567,"c":0,"p":-1.45},{"e":2567.5,"c":2,"p":0.96},{"e":2568,"c":1,"p":-0.03},{"e":2568.5,"c":3,"p":1.64},{"e":2569,"c":0,"p":-1.45},{"e":2569.5,"c":1,"p":-0.03},
      {"e":2570,"c":2,"p":0.96},{"e":2570.5,"c":0,"p":-1.45},{"e":2571,"c":1,"p":-0.03},{"e":2571.5,"c":3,"p":1.64},{"e":2572,"c":0,"p":-1.45},{"e":2572.5,"c":2,"p":0.96},{"e":2573,"c":4,"p":2.3},{"e":2573.5,"c":0,"p":-1.45},{"e":2574,"c":1,"p":-0.03},{"e":2574.5,"c":2,"p":0.96},
      {"e":2575,"c":0,"p":-1.45},{"e":2575.5,"c":3,"p":1.64},{"e":2576,"c":1,"p":-0.03},{"e":2576.5,"c":0,"p":-1.45},{"e":2577,"c":2,"p":0.96},{"e":2577.5,"c":1,"p":-0.03},{"e":2578,"c":0,"p":-1.45},{"e":2578.5,"c":2,"p":0.96},{"e":2579,"c":1,"p":-0.03},{"e":2579.5,"c":0,"p":-1.45},
      {"e":2580,"c":2,"p":0.96},{"e":2580.5,"c":1,"p":-0.03},{"e":2581,"c":0,"p":-1.45},{"e":2581.5,"c":2,"p":0.96},{"e":2582,"c":1,"p":-0.03},{"e":2582.5,"c":0,"p":-1.45},{"e":2583,"c":2,"p":0.96},{"e":2583.5,"c":1,"p":-0.03},{"e":2584,"c":0,"p":-1.45},{"e":2584.5,"c":3,"p":1.64},
      {"e":2585,"c":1,"p":-0.03},{"e":2585.5,"c":4,"p":2.3},{"e":2586,"c":0,"p":-1.45},{"e":2586.5,"c":5,"p":3.0},{"e":2587,"c":2,"p":0.96},{"e":2587.5,"c":4,"p":2.3},{"e":2588,"c":0,"p":-1.45},{"e":2588.5,"c":1,"p":-0.03},{"e":2589,"c":2,"p":0.96},{"e":2589.5,"c":0,"p":-1.45},
      {"e":2590,"c":1,"p":-0.03},{"e":2590.5,"c":3,"p":1.64},{"e":2591,"c":1,"p":-0.03},{"e":2591.5,"c":0,"p":-1.45},{"e":2592,"c":0,"p":-1.45},{"e":2592.5,"c":2,"p":0.96},{"e":2593,"c":1,"p":-0.03},{"e":2593.5,"c":0,"p":-1.45},{"e":2594,"c":2,"p":0.96},{"e":2594.5,"c":4,"p":2.3},
      {"e":2595,"c":0,"p":-1.45},{"e":2595.5,"c":1,"p":-0.03},{"e":2596,"c":3,"p":1.64},{"e":2596.5,"c":0,"p":-1.45},{"e":2597,"c":2,"p":0.96},{"e":2597.5,"c":1,"p":-0.03},{"e":2598,"c":0,"p":-1.45},{"e":2598.5,"c":2,"p":0.96},{"e":2599,"c":4,"p":2.3},{"e":2599.5,"c":1,"p":-0.03},
      {"e":2600,"c":0,"p":-1.45},{"e":2600.5,"c":2,"p":0.96},{"e":2601,"c":1,"p":-0.03},{"e":2601.5,"c":3,"p":1.64},{"e":2602,"c":0,"p":-1.45},{"e":2602.5,"c":1,"p":-0.03},{"e":2603,"c":2,"p":0.96},{"e":2603.5,"c":0,"p":-1.45},{"e":2604,"c":3,"p":1.64},{"e":2604.5,"c":1,"p":-0.03},
      {"e":2605,"c":0,"p":-1.45},{"e":2605.5,"c":2,"p":0.96},{"e":2606,"c":4,"p":2.3},{"e":2606.5,"c":1,"p":-0.03},{"e":2607,"c":0,"p":-1.45},{"e":2607.5,"c":3,"p":1.64},
      {"e":2608,"c":0,"p":-1.5},{"e":2608.5,"c":0,"p":-1.6},{"e":2609,"c":2,"p":0.3},{"e":2609.5,"c":1,"p":-1.2},{"e":2610,"c":4,"p":-0.6},{"e":2610.5,"c":9,"p":-1.4},{"e":2611,"c":24,"p":-1.9},{"e":2611.5,"c":62,"p":-1.5},{"e":2612,"c":128,"p":-2.1},{"e":2612.5,"c":236,"p":-1.0},
      {"e":2613,"c":355,"p":-1.9},{"e":2613.5,"c":480,"p":-0.7},{"e":2614,"c":566,"p":0.2},{"e":2614.5,"c":548,"p":1.0},{"e":2615,"c":470,"p":1.7},{"e":2615.5,"c":330,"p":1.4},{"e":2616,"c":215,"p":2.2},{"e":2616.5,"c":120,"p":1.3},{"e":2617,"c":58,"p":1.6},{"e":2617.5,"c":25,"p":2.1},
      {"e":2618,"c":8,"p":0.9},{"e":2618.5,"c":3,"p":-0.6},{"e":2619,"c":0,"p":-0.5},
      {"e":2620,"c":1,"p":1.8},{"e":2621,"c":0,"p":-0.45},{"e":2622,"c":0,"p":-0.45},{"e":2623,"c":0,"p":-0.45},{"e":2624,"c":0,"p":-0.45},{"e":2625,"c":1,"p":1.8},{"e":2626,"c":0,"p":-0.45},{"e":2627,"c":0,"p":-0.45},{"e":2628,"c":0,"p":-0.45},{"e":2629,"c":1,"p":1.8},
      {"e":2630,"c":0,"p":-0.45},{"e":2631,"c":0,"p":-0.45},{"e":2632,"c":1,"p":1.8},{"e":2633,"c":0,"p":-0.45},{"e":2634,"c":0,"p":-0.45},{"e":2635,"c":0,"p":-0.45},{"e":2636,"c":1,"p":1.8},{"e":2637,"c":1,"p":1.8},{"e":2638,"c":1,"p":1.8},{"e":2639,"c":0,"p":-0.45},
      {"e":2640,"c":1,"p":1.8},{"e":2641,"c":0,"p":-0.45},{"e":2642,"c":0,"p":-0.45},{"e":2643,"c":1,"p":1.8},{"e":2644,"c":0,"p":-0.45},{"e":2645,"c":0,"p":-0.45},{"e":2646,"c":0,"p":-0.45},{"e":2647,"c":1,"p":1.8},{"e":2648,"c":0,"p":-0.45},{"e":2649,"c":0,"p":-0.45},
      {"e":2650,"c":0,"p":-0.45},{"e":2651,"c":0,"p":-0.45},{"e":2652,"c":0,"p":-0.45},{"e":2653,"c":0,"p":-0.45},{"e":2654,"c":1,"p":1.8},{"e":2655,"c":0,"p":-0.45},{"e":2656,"c":0,"p":-0.45},{"e":2657,"c":1,"p":1.8},{"e":2658,"c":0,"p":-0.45},{"e":2659,"c":0,"p":-0.45},
      {"e":2660,"c":1,"p":1.8},{"e":2661,"c":2,"p":3.2},{"e":2662,"c":0,"p":-0.45},{"e":2663,"c":0,"p":-0.45},{"e":2664,"c":1,"p":1.8},{"e":2665,"c":0,"p":-0.45},{"e":2666,"c":0,"p":-0.45},{"e":2667,"c":0,"p":-0.45},{"e":2668,"c":0,"p":-0.45},{"e":2669,"c":1,"p":1.8},
      {"e":2670,"c":0,"p":-0.45},{"e":2671,"c":1,"p":1.8},{"e":2672,"c":1,"p":1.8},{"e":2673,"c":0,"p":-0.45},{"e":2674,"c":0,"p":-0.45},{"e":2675,"c":0,"p":-0.45},{"e":2676,"c":0,"p":-0.45},{"e":2677,"c":1,"p":1.8},{"e":2678,"c":0,"p":-0.45},{"e":2679,"c":1,"p":1.8},
      {"e":2680,"c":0,"p":-0.45},{"e":2681,"c":1,"p":1.8},{"e":2682,"c":0,"p":-0.42},{"e":2683,"c":0,"p":-0.42},{"e":2684,"c":1,"p":1.85},{"e":2685,"c":0,"p":-0.42},{"e":2686,"c":1,"p":1.85},{"e":2687,"c":1,"p":1.85},{"e":2688,"c":0,"p":-0.42},{"e":2689,"c":0,"p":-0.42},
      {"e":2690,"c":0,"p":-0.42},{"e":2691,"c":0,"p":-0.42},{"e":2692,"c":0,"p":-0.42},{"e":2693,"c":1,"p":1.85},{"e":2694,"c":0,"p":-0.42},{"e":2695,"c":0,"p":-0.42},{"e":2696,"c":1,"p":1.85},{"e":2697,"c":0,"p":-0.42},{"e":2698,"c":0,"p":-0.42},{"e":2699,"c":0,"p":-0.42},
      {"e":2700,"c":1,"p":1.85},{"e":2701,"c":0,"p":-0.42},{"e":2702,"c":0,"p":-0.42},{"e":2703,"c":0,"p":-0.42},{"e":2704,"c":0,"p":-0.42},{"e":2705,"c":0,"p":-0.42},{"e":2706,"c":0,"p":-0.42},{"e":2707,"c":0,"p":-0.42},{"e":2708,"c":0,"p":-0.42},{"e":2709,"c":0,"p":-0.42},
      {"e":2710,"c":0,"p":-0.42},{"e":2711,"c":0,"p":-0.42},{"e":2712,"c":0,"p":-0.42},{"e":2713,"c":0,"p":-0.42},{"e":2714,"c":0,"p":-0.42},{"e":2715,"c":1,"p":1.95},{"e":2716,"c":1,"p":1.95},{"e":2717,"c":0,"p":-0.4},{"e":2718,"c":1,"p":1.95},{"e":2719,"c":0,"p":-0.4},
      {"e":2720,"c":0,"p":-0.4},{"e":2721,"c":1,"p":1.95},{"e":2722,"c":0,"p":-0.4},{"e":2723,"c":0,"p":-0.4},{"e":2724,"c":0,"p":-0.4},{"e":2725,"c":0,"p":-0.4},{"e":2726,"c":0,"p":-0.4},{"e":2727,"c":1,"p":1.95},{"e":2728,"c":0,"p":-0.4},{"e":2729,"c":0,"p":-0.4},
      {"e":2730,"c":0,"p":-0.4},{"e":2731,"c":0,"p":-0.4},{"e":2732,"c":0,"p":-0.4},{"e":2733,"c":1,"p":1.95},{"e":2734,"c":1,"p":1.95},{"e":2735,"c":1,"p":1.95},{"e":2736,"c":0,"p":-0.4},{"e":2737,"c":0,"p":-0.4},{"e":2738,"c":1,"p":1.95},{"e":2739,"c":0,"p":-0.4},
      {"e":2740,"c":0,"p":-0.4},{"e":2741,"c":0,"p":-0.38},{"e":2742,"c":0,"p":-0.38},{"e":2743,"c":0,"p":-0.38},{"e":2744,"c":1,"p":2.0},{"e":2745,"c":0,"p":-0.38},{"e":2746,"c":0,"p":-0.38},{"e":2747,"c":0,"p":-0.38},{"e":2748,"c":0,"p":-0.38},{"e":2749,"c":1,"p":2.0},
      {"e":2750,"c":0,"p":-0.38},{"e":2751,"c":0,"p":-0.38},{"e":2752,"c":0,"p":-0.38},{"e":2753,"c":1,"p":2.0},{"e":2754,"c":0,"p":-0.38},{"e":2755,"c":0,"p":-0.38},{"e":2756,"c":0,"p":-0.38},{"e":2757,"c":0,"p":-0.38},{"e":2758,"c":0,"p":-0.38},{"e":2759,"c":0,"p":-0.38},
      {"e":2760,"c":0,"p":-0.38},{"e":2761,"c":0,"p":-0.36},{"e":2762,"c":0,"p":-0.36},{"e":2763,"c":1,"p":2.1},{"e":2764,"c":0,"p":-0.36},{"e":2765,"c":0,"p":-0.36},{"e":2766,"c":0,"p":-0.36},{"e":2767,"c":0,"p":-0.36},{"e":2768,"c":0,"p":-0.36},{"e":2769,"c":0,"p":-0.36},
      {"e":2770,"c":0,"p":-0.36},{"e":2771,"c":0,"p":-0.36},{"e":2772,"c":0,"p":-0.36},{"e":2773,"c":0,"p":-0.36},{"e":2774,"c":1,"p":2.1},{"e":2775,"c":0,"p":-0.36},{"e":2776,"c":1,"p":2.1},{"e":2777,"c":0,"p":-0.36},{"e":2778,"c":0,"p":-0.36},{"e":2779,"c":0,"p":-0.36},
      {"e":2780,"c":0,"p":-0.34},{"e":2781,"c":1,"p":2.2},{"e":2782,"c":0,"p":-0.34},{"e":2783,"c":0,"p":-0.34},{"e":2784,"c":0,"p":-0.34},{"e":2785,"c":0,"p":-0.34},{"e":2786,"c":0,"p":-0.34},{"e":2787,"c":0,"p":-0.34},{"e":2788,"c":0,"p":-0.34},{"e":2789,"c":0,"p":-0.34},
      {"e":2790,"c":0,"p":-0.34},{"e":2791,"c":0,"p":-0.34},{"e":2792,"c":0,"p":-0.34},{"e":2793,"c":0,"p":-0.34},{"e":2794,"c":0,"p":-0.34},{"e":2795,"c":1,"p":2.2},{"e":2796,"c":1,"p":2.2},{"e":2797,"c":0,"p":-0.34},{"e":2798,"c":0,"p":-0.34},{"e":2799,"c":1,"p":2.2},
      {"e":2800,"c":0,"p":-0.34}
    ],
    "f8": [
      {"e":2550,"f":1.1},{"e":2607,"f":1.12},{"e":2608,"f":1.15},{"e":2609.3,"f":1.44},{"e":2609.8,"f":2.5},{"e":2610.3,"f":6.0},{"e":2610.8,"f":16},{"e":2611.3,"f":40},{"e":2611.8,"f":89},{"e":2612.3,"f":173},{"e":2612.8,"f":289},{"e":2613.3,"f":417},{"e":2613.8,"f":521},{"e":2614.3,"f":561},{"e":2614.8,"f":520},
      {"e":2615.3,"f":416},{"e":2615.8,"f":288},{"e":2616.3,"f":172},{"e":2616.8,"f":88},{"e":2617.3,"f":39},{"e":2617.8,"f":15},{"e":2618.3,"f":5.0},{"e":2618.8,"f":1.5},{"e":2619.3,"f":0.44},{"e":2619.6,"f":0.2},{"e":2620,"f":0.1},{"e":2650,"f":0.09},{"e":2700,"f":0.075},{"e":2750,"f":0.058},{"e":2782,"f":0.042}
    ]
  },
  "config": {
    "font": "Liberation Serif, Times New Roman, DejaVu Serif, serif",
    "view": {"stroke": "#000", "strokeWidth": 1},
    "style": {"guide-label": {"font": "Liberation Serif, Times New Roman, DejaVu Serif, serif"}, "guide-title": {"font": "Liberation Serif, Times New Roman, DejaVu Serif, serif"}},
    "axis": {"grid": false, "domain": false, "labelFont": "Liberation Serif, Times New Roman, DejaVu Serif, serif", "labelFontSize": 13, "labelColor": "#000", "titleFont": "Liberation Serif, Times New Roman, DejaVu Serif, serif", "titleFontSize": 13, "titleFontWeight": "normal", "titleColor": "#000", "tickColor": "#000", "tickWidth": 1, "labelFlush": false, "labelOverlap": false}
  }
}
